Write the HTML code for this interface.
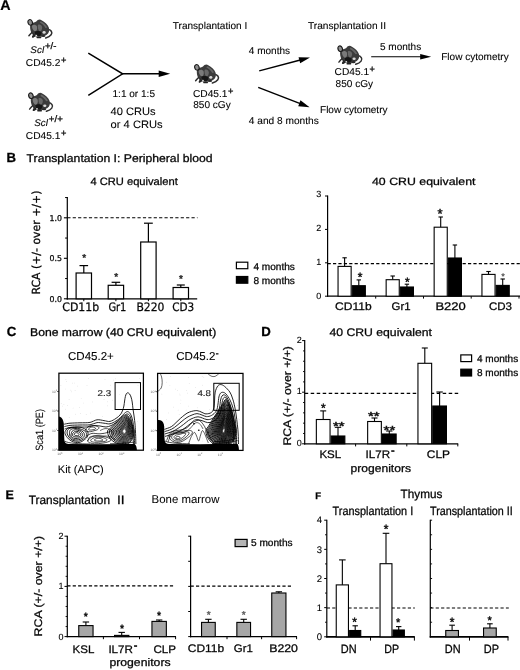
<!DOCTYPE html>
<html lang="en">
<head>
<meta charset="utf-8">
<title>Figure</title>
<style>
html,body{margin:0;padding:0;background:#fff;}
body{width:520px;height:670px;overflow:hidden;}
svg{display:block;font-family:"Liberation Sans",Arial,Helvetica,sans-serif;text-rendering:geometricPrecision;}
</style>
</head>
<body>
<svg width="520" height="670" viewBox="0 0 520 670">
<defs>
<filter id="soft" x="-10%" y="-10%" width="120%" height="120%"><feGaussianBlur stdDeviation="0.35"/></filter>
<filter id="soft2" x="-10%" y="-10%" width="120%" height="120%"><feGaussianBlur stdDeviation="0.25"/></filter>
<g id="mouse" filter="url(#soft)">
  <!-- tail -->
  <path d="M20.2,10.2 C23.8,10.6 25.6,13.4 23.8,15.8 C22.6,17.4 20.4,18.4 18.4,19" fill="none" stroke="#2e2e2e" stroke-width="1.5" stroke-linecap="round"/>
  <!-- body -->
  <path d="M3.0,5.8 C4.4,3.8 7.2,3.8 9.0,2.6 C10.4,0.4 12.6,0.0 14.2,1.2 C17.6,2.8 20.6,5.6 21.6,8.8 C22.4,11.6 21.6,14.4 19.4,15.8 C17.2,17.2 13.8,17.8 11,17.8 C8.2,17.8 5.8,16.4 4.4,14.2 C3.0,11.8 2.4,8.2 3.0,5.8 Z" fill="#3a3a3a"/>
  <!-- lighter patches -->
  <path d="M4.6,6.6 C6.2,5.2 8.6,5.4 9.6,7.2 C10.2,9.4 9.6,11.8 8.2,12.6 C6.2,12.4 4.6,9.6 4.6,6.6 Z" fill="#7a7a7a"/>
  <path d="M10.6,6 C12.4,5 14.4,6 14.8,8.2 C15,10.4 14,12.4 12.2,12.6 C10.8,11.2 10.2,8.2 10.6,6 Z" fill="#686868"/>
  <path d="M13.2,2.2 C15.8,3.2 18.8,5.8 20.0,8.4 L18.2,9.0 C17.0,6.6 14.8,4.6 12.4,3.6 Z" fill="#666"/>
  <!-- ear -->
  <ellipse cx="2.9" cy="3.4" rx="2.2" ry="2.9" fill="#8e8e8e" stroke="#1c1c1c" stroke-width="1.15" transform="rotate(-20 2.9 3.4)"/>
  <!-- dark belly -->
  <path d="M7.4,12.6 C9.4,11.6 12.4,11.8 14.0,13.0 C15.0,14.8 13.8,16.8 11.6,17.2 C9.2,17.2 7.4,15.4 7.4,12.6 Z" fill="#141414"/>
  <!-- feet -->
  <path d="M4.6,13.4 C3.4,14.6 2.4,15.8 1.6,16.8" fill="none" stroke="#2a2a2a" stroke-width="1.4" stroke-linecap="round"/>
  <path d="M6.4,15 C6,16.2 5.6,17.2 5.8,18" fill="none" stroke="#2a2a2a" stroke-width="1.4" stroke-linecap="round"/>
  <ellipse cx="16.8" cy="13.4" rx="1.6" ry="1.3" fill="#d8d8d8"/>
  <ellipse cx="6.6" cy="17.2" rx="2.2" ry="1.0" fill="#222" transform="rotate(-25 6.6 17.2)"/>
  <ellipse cx="11.6" cy="18.4" rx="2.6" ry="0.9" fill="#222"/>
  <ellipse cx="16.0" cy="17.0" rx="2.2" ry="1.0" fill="#2c2c2c"/>
  <ellipse cx="9.0" cy="16.4" rx="0.9" ry="0.7" fill="#ddd"/>
</g>
</defs>
<rect x="0" y="0" width="520" height="670" fill="#fff"/>

<g id="panelA">
<text x="0.20" y="10.20" font-size="14.3" font-weight="bold" fill="#000" stroke="#000" stroke-width="0.2">A</text>
<use href="#mouse" transform="translate(27.30,19.00) scale(1.0)"/>
<use href="#mouse" transform="translate(28.00,92.30) scale(1.0)"/>
<use href="#mouse" transform="translate(194.00,64.00) scale(1.0)"/>
<use href="#mouse" transform="translate(337.30,45.30) scale(1.0)"/>
<text x="30.30" y="52.60" font-size="9.6" font-style="italic" textLength="13.80" lengthAdjust="spacingAndGlyphs" stroke="#111" stroke-width="0.1">Scl</text>
<text x="45.00" y="49.40" font-size="9.6" textLength="11.40" lengthAdjust="spacingAndGlyphs" stroke="#111" stroke-width="0.3">+/-</text>
<text x="25.80" y="66.30" font-size="10" textLength="34.50" lengthAdjust="spacingAndGlyphs" stroke="#111" stroke-width="0.1">CD45.2</text>
<text x="61.00" y="63.40" font-size="9.2" stroke="#111" stroke-width="0.35">+</text>
<text x="34.20" y="125.80" font-size="9.6" font-style="italic" textLength="13.80" lengthAdjust="spacingAndGlyphs" stroke="#111" stroke-width="0.1">Scl</text>
<text x="48.80" y="122.40" font-size="9.6" textLength="14.00" lengthAdjust="spacingAndGlyphs" stroke="#111" stroke-width="0.3">+/+</text>
<text x="25.80" y="139.00" font-size="10" textLength="34.50" lengthAdjust="spacingAndGlyphs" stroke="#111" stroke-width="0.1">CD45.1</text>
<text x="61.00" y="136.00" font-size="9.2" stroke="#111" stroke-width="0.35">+</text>
<path d="M88.3,53.2 L122.6,73.8 L88.3,95.4" fill="none" stroke="#000" stroke-width="1.5" stroke-linejoin="miter"/>
<line x1="122.00" y1="73.80" x2="159.70" y2="73.80" stroke="#000" stroke-width="1.5" />
<polygon points="170.20,73.80 158.70,77.00 158.70,70.60" fill="#000"/>
<text x="112.50" y="97.40" font-size="10" textLength="42.50" lengthAdjust="spacingAndGlyphs" stroke="#111" stroke-width="0.1">1:1 or 1:5</text>
<text x="110.60" y="115.00" font-size="10.8" textLength="45.00" lengthAdjust="spacingAndGlyphs" stroke="#111" stroke-width="0.1">40 CRUs</text>
<text x="110.60" y="128.00" font-size="10.8" textLength="52.00" lengthAdjust="spacingAndGlyphs" stroke="#111" stroke-width="0.1">or 4 CRUs</text>
<text x="172.80" y="28.90" font-size="10" textLength="74.40" lengthAdjust="spacingAndGlyphs" stroke="#111" stroke-width="0.1">Transplantation I</text>
<text x="193.00" y="96.80" font-size="10" textLength="34.50" lengthAdjust="spacingAndGlyphs" stroke="#111" stroke-width="0.1">CD45.1</text>
<text x="228.00" y="93.80" font-size="9.2" stroke="#111" stroke-width="0.35">+</text>
<text x="193.20" y="108.20" font-size="10" textLength="37.50" lengthAdjust="spacingAndGlyphs" stroke="#111" stroke-width="0.1">850 cGy</text>
<text x="248.80" y="53.60" font-size="10" textLength="41.20" lengthAdjust="spacingAndGlyphs" stroke="#111" stroke-width="0.1">4 months</text>
<line x1="259.20" y1="70.90" x2="300.34" y2="59.97" stroke="#000" stroke-width="1.5" />
<polygon points="310.00,57.40 300.17,63.22 298.57,57.23" fill="#000"/>
<line x1="258.20" y1="87.40" x2="300.27" y2="103.61" stroke="#000" stroke-width="1.5" />
<polygon points="309.60,107.20 298.22,106.14 300.45,100.35" fill="#000"/>
<text x="248.80" y="123.60" font-size="10" textLength="70.00" lengthAdjust="spacingAndGlyphs" stroke="#111" stroke-width="0.1">4 and 8 months</text>
<text x="320.00" y="113.00" font-size="10" textLength="67.50" lengthAdjust="spacingAndGlyphs" stroke="#111" stroke-width="0.1">Flow cytometry</text>
<text x="308.00" y="28.90" font-size="10" textLength="78.00" lengthAdjust="spacingAndGlyphs" stroke="#111" stroke-width="0.1">Transplantation II</text>
<text x="334.60" y="75.40" font-size="10" textLength="34.50" lengthAdjust="spacingAndGlyphs" stroke="#111" stroke-width="0.1">CD45.1</text>
<text x="369.60" y="72.40" font-size="9.2" stroke="#111" stroke-width="0.35">+</text>
<text x="335.60" y="86.80" font-size="10" textLength="37.50" lengthAdjust="spacingAndGlyphs" stroke="#111" stroke-width="0.1">850 cGy</text>
<text x="380.00" y="49.80" font-size="10" textLength="41.20" lengthAdjust="spacingAndGlyphs" stroke="#111" stroke-width="0.1">5 months</text>
<line x1="371.20" y1="56.80" x2="421.20" y2="56.80" stroke="#000" stroke-width="1.1" />
<polygon points="431.20,56.80 420.20,59.60 420.20,54.00" fill="#000"/>
<text x="441.20" y="59.80" font-size="10" textLength="67.50" lengthAdjust="spacingAndGlyphs" stroke="#111" stroke-width="0.1">Flow cytometry</text>
</g>
<g id="panelB">
<text x="6.60" y="162.20" font-size="13.2" font-weight="bold" fill="#000" stroke="#000" stroke-width="0.28">B</text>
<text x="26.60" y="162.30" font-size="11.2" textLength="186.00" lengthAdjust="spacingAndGlyphs" stroke="#111" stroke-width="0.3">Transplantation I: Peripheral blood</text>
<text x="90.40" y="185.30" font-size="10.7" textLength="87.40" lengthAdjust="spacingAndGlyphs" stroke="#111" stroke-width="0.28">4 CRU equivalent</text>
<text x="372.00" y="185.30" font-size="10.5" textLength="103.50" lengthAdjust="spacingAndGlyphs" stroke="#111" stroke-width="0.28">40 CRU equivalent</text>
<line x1="67.30" y1="197.05" x2="67.30" y2="299.40" stroke="#000" stroke-width="1.2" />
<line x1="66.70" y1="298.80" x2="197.20" y2="298.80" stroke="#000" stroke-width="1.3" />
<line x1="63.90" y1="258.30" x2="67.30" y2="258.30" stroke="#000" stroke-width="1.1" />
<line x1="63.90" y1="217.80" x2="67.30" y2="217.80" stroke="#000" stroke-width="1.1" />
<line x1="63.90" y1="298.80" x2="67.30" y2="298.80" stroke="#000" stroke-width="1.1" />
<line x1="65.10" y1="278.55" x2="67.30" y2="278.55" stroke="#000" stroke-width="1.0" />
<line x1="65.10" y1="238.05" x2="67.30" y2="238.05" stroke="#000" stroke-width="1.0" />
<line x1="65.10" y1="197.55" x2="67.30" y2="197.55" stroke="#000" stroke-width="1.0" />
<text x="62.00" y="301.70" font-size="8" font-family='"DejaVu Sans", "Liberation Sans", sans-serif' text-anchor="end" textLength="12.40" lengthAdjust="spacingAndGlyphs" stroke="#111" stroke-width="0.28">0.0</text>
<text x="62.00" y="261.20" font-size="8" font-family='"DejaVu Sans", "Liberation Sans", sans-serif' text-anchor="end" textLength="12.40" lengthAdjust="spacingAndGlyphs" stroke="#111" stroke-width="0.28">0.5</text>
<text x="62.00" y="220.70" font-size="8" font-family='"DejaVu Sans", "Liberation Sans", sans-serif' text-anchor="end" textLength="12.40" lengthAdjust="spacingAndGlyphs" stroke="#111" stroke-width="0.28">1.0</text>
<text transform="translate(40.00,294.60) rotate(-90)" font-size="11.2" font-family='"DejaVu Sans", "Liberation Sans", sans-serif' textLength="104.00" lengthAdjust="spacingAndGlyphs" stroke="#111" stroke-width="0.28">RCA (+/- over +/+)</text>
<line x1="67.30" y1="217.80" x2="197.50" y2="217.80" stroke="#000" stroke-width="1.1" stroke-dasharray="3.2 2.2"/>
<line x1="83.80" y1="298.80" x2="83.80" y2="301.20" stroke="#000" stroke-width="1.0" />
<line x1="83.80" y1="265.60" x2="83.80" y2="273.00" stroke="#000" stroke-width="1.2" />
<line x1="79.50" y1="265.60" x2="88.10" y2="265.60" stroke="#000" stroke-width="1.2" />
<rect x="76.10" y="273.00" width="15.40" height="25.80" fill="#fff" stroke="#000" stroke-width="1.2"/>
<line x1="115.90" y1="298.80" x2="115.90" y2="301.20" stroke="#000" stroke-width="1.0" />
<line x1="115.90" y1="282.30" x2="115.90" y2="285.30" stroke="#000" stroke-width="1.2" />
<line x1="111.60" y1="282.30" x2="120.20" y2="282.30" stroke="#000" stroke-width="1.2" />
<rect x="108.20" y="285.30" width="15.40" height="13.50" fill="#fff" stroke="#000" stroke-width="1.2"/>
<line x1="148.40" y1="298.80" x2="148.40" y2="301.20" stroke="#000" stroke-width="1.0" />
<line x1="148.40" y1="223.20" x2="148.40" y2="242.00" stroke="#000" stroke-width="1.2" />
<line x1="144.00" y1="223.20" x2="152.80" y2="223.20" stroke="#000" stroke-width="1.2" />
<rect x="140.70" y="242.00" width="15.40" height="56.80" fill="#fff" stroke="#000" stroke-width="1.2"/>
<line x1="180.80" y1="298.80" x2="180.80" y2="301.20" stroke="#000" stroke-width="1.0" />
<line x1="180.80" y1="285.00" x2="180.80" y2="287.50" stroke="#000" stroke-width="1.2" />
<line x1="176.80" y1="285.00" x2="184.80" y2="285.00" stroke="#000" stroke-width="1.2" />
<rect x="173.10" y="287.50" width="15.40" height="11.30" fill="#fff" stroke="#000" stroke-width="1.2"/>
<text x="84.30" y="261.45" font-size="10" text-anchor="middle" fill="#333" stroke="#333" stroke-width="0.5">*</text>
<text x="116.20" y="279.85" font-size="10" text-anchor="middle" fill="#333" stroke="#333" stroke-width="0.5">*</text>
<text x="181.00" y="282.45" font-size="10" text-anchor="middle" fill="#333" stroke="#333" stroke-width="0.5">*</text>
<text x="62.30" y="311.40" font-size="11.6" font-family='"DejaVu Sans", "Liberation Sans", sans-serif' textLength="36.90" lengthAdjust="spacingAndGlyphs" stroke="#111" stroke-width="0.28">CD11b</text>
<text x="108.40" y="311.40" font-size="11.6" font-family='"DejaVu Sans", "Liberation Sans", sans-serif' textLength="18.00" lengthAdjust="spacingAndGlyphs" stroke="#111" stroke-width="0.28">Gr1</text>
<text x="136.40" y="311.40" font-size="11.6" font-family='"DejaVu Sans", "Liberation Sans", sans-serif' textLength="28.00" lengthAdjust="spacingAndGlyphs" stroke="#111" stroke-width="0.28">B220</text>
<text x="172.20" y="311.40" font-size="11.6" font-family='"DejaVu Sans", "Liberation Sans", sans-serif' textLength="22.00" lengthAdjust="spacingAndGlyphs" stroke="#111" stroke-width="0.28">CD3</text>
<rect x="236.40" y="262.20" width="11.40" height="6.50" fill="#fff" stroke="#000" stroke-width="1.2"/>
<rect x="236.40" y="276.50" width="11.40" height="6.70" fill="#000" stroke="#000" stroke-width="1.2"/>
<text x="253.40" y="270.00" font-size="10" textLength="41.50" lengthAdjust="spacingAndGlyphs" stroke="#111" stroke-width="0.28">4 months</text>
<text x="253.40" y="283.50" font-size="10" textLength="41.50" lengthAdjust="spacingAndGlyphs" stroke="#111" stroke-width="0.28">8 months</text>
<line x1="327.60" y1="195.50" x2="327.60" y2="296.80" stroke="#000" stroke-width="1.2" />
<line x1="327.00" y1="296.20" x2="520.00" y2="296.20" stroke="#000" stroke-width="1.3" />
<line x1="325.00" y1="296.20" x2="327.60" y2="296.20" stroke="#000" stroke-width="1.0" />
<text x="321.20" y="299.20" font-size="9" text-anchor="end" stroke="#111" stroke-width="0.1">0</text>
<line x1="325.00" y1="262.80" x2="327.60" y2="262.80" stroke="#000" stroke-width="1.0" />
<text x="321.20" y="265.00" font-size="9" text-anchor="end" stroke="#111" stroke-width="0.1">1</text>
<line x1="325.00" y1="229.40" x2="327.60" y2="229.40" stroke="#000" stroke-width="1.0" />
<text x="321.20" y="230.80" font-size="9" text-anchor="end" stroke="#111" stroke-width="0.1">2</text>
<line x1="325.00" y1="196.00" x2="327.60" y2="196.00" stroke="#000" stroke-width="1.0" />
<text x="321.20" y="196.60" font-size="9" text-anchor="end" stroke="#111" stroke-width="0.1">3</text>
<line x1="375.70" y1="296.20" x2="375.70" y2="298.60" stroke="#000" stroke-width="1.0" />
<line x1="423.50" y1="296.20" x2="423.50" y2="298.60" stroke="#000" stroke-width="1.0" />
<line x1="471.20" y1="296.20" x2="471.20" y2="298.60" stroke="#000" stroke-width="1.0" />
<line x1="519.00" y1="296.20" x2="519.00" y2="298.60" stroke="#000" stroke-width="1.0" />
<line x1="327.60" y1="263.60" x2="520.00" y2="263.60" stroke="#000" stroke-width="1.1" stroke-dasharray="3.2 2.2"/>
<line x1="344.60" y1="257.80" x2="344.60" y2="266.40" stroke="#000" stroke-width="1.1" />
<line x1="342.40" y1="257.80" x2="346.80" y2="257.80" stroke="#000" stroke-width="1.1" />
<rect x="338.05" y="266.40" width="13.10" height="29.80" fill="#fff" stroke="#000" stroke-width="1.1"/>
<line x1="358.80" y1="279.90" x2="358.80" y2="285.70" stroke="#000" stroke-width="1.1" />
<line x1="356.60" y1="279.90" x2="361.00" y2="279.90" stroke="#000" stroke-width="1.1" />
<rect x="352.25" y="285.70" width="13.10" height="10.50" fill="#000" stroke="#000" stroke-width="1.1"/>
<line x1="392.70" y1="276.00" x2="392.70" y2="279.70" stroke="#000" stroke-width="1.1" />
<line x1="390.50" y1="276.00" x2="394.90" y2="276.00" stroke="#000" stroke-width="1.1" />
<rect x="386.15" y="279.70" width="13.10" height="16.50" fill="#fff" stroke="#000" stroke-width="1.1"/>
<line x1="406.90" y1="284.20" x2="406.90" y2="287.00" stroke="#000" stroke-width="1.1" />
<line x1="404.70" y1="284.20" x2="409.10" y2="284.20" stroke="#000" stroke-width="1.1" />
<rect x="400.35" y="287.00" width="13.10" height="9.20" fill="#000" stroke="#000" stroke-width="1.1"/>
<line x1="440.70" y1="217.00" x2="440.70" y2="227.20" stroke="#000" stroke-width="1.1" />
<line x1="438.50" y1="217.00" x2="442.90" y2="217.00" stroke="#000" stroke-width="1.1" />
<rect x="434.15" y="227.20" width="13.10" height="69.00" fill="#fff" stroke="#000" stroke-width="1.1"/>
<line x1="454.90" y1="245.00" x2="454.90" y2="258.00" stroke="#000" stroke-width="1.1" />
<line x1="452.70" y1="245.00" x2="457.10" y2="245.00" stroke="#000" stroke-width="1.1" />
<rect x="448.35" y="258.00" width="13.10" height="38.20" fill="#000" stroke="#000" stroke-width="1.1"/>
<line x1="488.50" y1="271.50" x2="488.50" y2="274.40" stroke="#000" stroke-width="1.1" />
<line x1="486.30" y1="271.50" x2="490.70" y2="271.50" stroke="#000" stroke-width="1.1" />
<rect x="481.95" y="274.40" width="13.10" height="21.80" fill="#fff" stroke="#000" stroke-width="1.1"/>
<line x1="502.70" y1="279.00" x2="502.70" y2="285.40" stroke="#000" stroke-width="1.1" />
<line x1="500.50" y1="279.00" x2="504.90" y2="279.00" stroke="#000" stroke-width="1.1" />
<rect x="496.15" y="285.40" width="13.10" height="10.80" fill="#000" stroke="#000" stroke-width="1.1"/>
<text x="360.20" y="281.22" font-size="12" text-anchor="middle" stroke="#111" stroke-width="0.45">*</text>
<text x="407.40" y="286.42" font-size="12" text-anchor="middle" stroke="#111" stroke-width="0.45">*</text>
<text x="440.00" y="218.40" font-size="13" text-anchor="middle" stroke="#111" stroke-width="0.45">*</text>
<text x="503.00" y="278.88" font-size="8" text-anchor="middle" fill="#666" stroke="#666" stroke-width="0.45">*</text>
<text x="335.00" y="309.80" font-size="11" textLength="36.60" lengthAdjust="spacingAndGlyphs" stroke="#111" stroke-width="0.28">CD11b</text>
<text x="391.60" y="309.80" font-size="11" textLength="19.00" lengthAdjust="spacingAndGlyphs" stroke="#111" stroke-width="0.28">Gr1</text>
<text x="435.40" y="309.80" font-size="11" textLength="30.40" lengthAdjust="spacingAndGlyphs" stroke="#111" stroke-width="0.28">B220</text>
<text x="489.00" y="309.80" font-size="11" textLength="23.00" lengthAdjust="spacingAndGlyphs" stroke="#111" stroke-width="0.28">CD3</text>
</g>
<g id="panelC">
<text x="6.80" y="335.60" font-size="13.2" font-weight="bold" fill="#000" stroke="#000" stroke-width="0.28">C</text>
<text x="30.00" y="335.70" font-size="11.2" textLength="186.20" lengthAdjust="spacingAndGlyphs" stroke="#111" stroke-width="0.3">Bone marrow (40 CRU equivalent)</text>
<text x="68.00" y="359.70" font-size="11.5" textLength="45.80" lengthAdjust="spacingAndGlyphs" stroke="#111" stroke-width="0.08">CD45.2+</text>
<text x="176.20" y="360.00" font-size="11.5" textLength="39.20" lengthAdjust="spacingAndGlyphs" stroke="#111" stroke-width="0.08">CD45.2</text>
<text x="215.80" y="355.60" font-size="8.5" font-weight="bold" stroke="#111" stroke-width="0.28">-</text>
<text transform="translate(43.20,450.80) rotate(-90)" font-size="10.6" textLength="41.80" lengthAdjust="spacingAndGlyphs" stroke="#111" stroke-width="0.08">Sca1 (PE)</text>
<text x="57.80" y="472.60" font-size="11" textLength="46.00" lengthAdjust="spacingAndGlyphs" stroke="#111" stroke-width="0.08">Kit (APC)</text>
</g>
<g id="panelD">
<text x="261.20" y="336.00" font-size="13.2" font-weight="bold" fill="#000" stroke="#000" stroke-width="0.28">D</text>
<text x="329.40" y="336.40" font-size="11" textLength="102.60" lengthAdjust="spacingAndGlyphs" stroke="#111" stroke-width="0.28">40 CRU equivalent</text>
<line x1="304.70" y1="340.10" x2="304.70" y2="444.40" stroke="#000" stroke-width="1.2" />
<line x1="304.10" y1="443.80" x2="458.20" y2="443.80" stroke="#000" stroke-width="1.3" />
<line x1="302.10" y1="443.80" x2="304.70" y2="443.80" stroke="#000" stroke-width="1.0" />
<text x="301.80" y="445.80" font-size="9" text-anchor="end" stroke="#111" stroke-width="0.1">0</text>
<line x1="302.10" y1="392.20" x2="304.70" y2="392.20" stroke="#000" stroke-width="1.0" />
<text x="301.80" y="394.20" font-size="9" text-anchor="end" stroke="#111" stroke-width="0.1">1</text>
<line x1="302.10" y1="340.60" x2="304.70" y2="340.60" stroke="#000" stroke-width="1.0" />
<text x="301.80" y="342.60" font-size="9" text-anchor="end" stroke="#111" stroke-width="0.1">2</text>
<line x1="303.00" y1="433.48" x2="304.70" y2="433.48" stroke="#000" stroke-width="0.9" />
<line x1="303.00" y1="423.16" x2="304.70" y2="423.16" stroke="#000" stroke-width="0.9" />
<line x1="303.00" y1="412.84" x2="304.70" y2="412.84" stroke="#000" stroke-width="0.9" />
<line x1="303.00" y1="402.52" x2="304.70" y2="402.52" stroke="#000" stroke-width="0.9" />
<line x1="303.00" y1="381.88" x2="304.70" y2="381.88" stroke="#000" stroke-width="0.9" />
<line x1="303.00" y1="371.56" x2="304.70" y2="371.56" stroke="#000" stroke-width="0.9" />
<line x1="303.00" y1="361.24" x2="304.70" y2="361.24" stroke="#000" stroke-width="0.9" />
<line x1="303.00" y1="350.92" x2="304.70" y2="350.92" stroke="#000" stroke-width="0.9" />
<line x1="355.60" y1="443.80" x2="355.60" y2="446.40" stroke="#000" stroke-width="1.0" />
<line x1="406.80" y1="443.80" x2="406.80" y2="446.40" stroke="#000" stroke-width="1.0" />
<line x1="457.80" y1="443.80" x2="457.80" y2="446.40" stroke="#000" stroke-width="1.0" />
<line x1="304.70" y1="393.40" x2="458.20" y2="393.40" stroke="#000" stroke-width="1.1" stroke-dasharray="3.5 2.5"/>
<text transform="translate(290.60,445.60) rotate(-90)" font-size="11" textLength="99.50" lengthAdjust="spacingAndGlyphs" stroke="#111" stroke-width="0.28">RCA (+/- over +/+)</text>
<line x1="323.20" y1="410.90" x2="323.20" y2="419.50" stroke="#000" stroke-width="1.1" />
<line x1="320.20" y1="410.90" x2="326.20" y2="410.90" stroke="#000" stroke-width="1.1" />
<rect x="316.35" y="419.50" width="13.70" height="24.30" fill="#fff" stroke="#000" stroke-width="1.1"/>
<line x1="338.00" y1="427.30" x2="338.00" y2="436.00" stroke="#000" stroke-width="1.1" />
<line x1="334.80" y1="427.30" x2="341.20" y2="427.30" stroke="#000" stroke-width="1.1" />
<rect x="331.15" y="436.00" width="13.70" height="7.80" fill="#000" stroke="#000" stroke-width="1.1"/>
<line x1="374.50" y1="418.00" x2="374.50" y2="421.50" stroke="#000" stroke-width="1.1" />
<line x1="371.50" y1="418.00" x2="377.50" y2="418.00" stroke="#000" stroke-width="1.1" />
<rect x="367.65" y="421.50" width="13.70" height="22.30" fill="#fff" stroke="#000" stroke-width="1.1"/>
<line x1="389.30" y1="431.00" x2="389.30" y2="434.00" stroke="#000" stroke-width="1.1" />
<line x1="386.10" y1="431.00" x2="392.50" y2="431.00" stroke="#000" stroke-width="1.1" />
<rect x="382.45" y="434.00" width="13.70" height="9.80" fill="#000" stroke="#000" stroke-width="1.1"/>
<line x1="424.80" y1="348.00" x2="424.80" y2="363.30" stroke="#000" stroke-width="1.1" />
<line x1="421.80" y1="348.00" x2="427.80" y2="348.00" stroke="#000" stroke-width="1.1" />
<rect x="417.95" y="363.30" width="13.70" height="80.50" fill="#fff" stroke="#000" stroke-width="1.1"/>
<line x1="439.60" y1="392.00" x2="439.60" y2="406.00" stroke="#000" stroke-width="1.1" />
<line x1="436.40" y1="392.00" x2="442.80" y2="392.00" stroke="#000" stroke-width="1.1" />
<rect x="432.75" y="406.00" width="13.70" height="37.80" fill="#000" stroke="#000" stroke-width="1.1"/>
<text x="323.40" y="412.42" font-size="12" text-anchor="middle" stroke="#111" stroke-width="0.45">*</text>
<text x="332.90" y="430.00" font-size="11.5" textLength="11.60" lengthAdjust="spacingAndGlyphs" stroke="#111" stroke-width="0.45">**</text>
<text x="368.00" y="420.00" font-size="11.5" textLength="11.60" lengthAdjust="spacingAndGlyphs" stroke="#111" stroke-width="0.45">**</text>
<text x="383.60" y="434.40" font-size="11.5" textLength="11.60" lengthAdjust="spacingAndGlyphs" stroke="#111" stroke-width="0.45">**</text>
<text x="319.40" y="458.10" font-size="11" textLength="21.80" lengthAdjust="spacingAndGlyphs" stroke="#111" stroke-width="0.28">KSL</text>
<text x="365.60" y="458.10" font-size="11" textLength="24.60" lengthAdjust="spacingAndGlyphs" stroke="#111" stroke-width="0.28">IL7R</text>
<text x="391.00" y="454.40" font-size="11" font-weight="bold" stroke="#111" stroke-width="0.28">-</text>
<text x="426.80" y="458.10" font-size="11" textLength="23.20" lengthAdjust="spacingAndGlyphs" stroke="#111" stroke-width="0.28">CLP</text>
<text x="350.60" y="472.20" font-size="11" textLength="60.40" lengthAdjust="spacingAndGlyphs" stroke="#111" stroke-width="0.28">progenitors</text>
<rect x="460.80" y="354.90" width="10.80" height="6.70" fill="#fff" stroke="#000" stroke-width="1.2"/>
<rect x="460.80" y="369.20" width="10.80" height="6.80" fill="#000" stroke="#000" stroke-width="1.2"/>
<text x="477.00" y="362.40" font-size="10" textLength="41.20" lengthAdjust="spacingAndGlyphs" stroke="#111" stroke-width="0.28">4 months</text>
<text x="477.00" y="376.00" font-size="10" textLength="41.20" lengthAdjust="spacingAndGlyphs" stroke="#111" stroke-width="0.28">8 months</text>
</g>
<g id="panelE">
<text x="5.40" y="498.80" font-size="12.5" font-weight="bold" fill="#000" stroke="#000" stroke-width="0.28">E</text>
<text x="28.80" y="503.80" font-size="12" textLength="81.20" lengthAdjust="spacingAndGlyphs" stroke="#111" stroke-width="0.28">Transplantation</text>
<text x="117.00" y="503.80" font-size="12" textLength="7.60" lengthAdjust="spacingAndGlyphs" stroke="#111" stroke-width="0.28">II</text>
<text x="151.60" y="503.00" font-size="11.4" textLength="67.80" lengthAdjust="spacingAndGlyphs" stroke="#111" stroke-width="0.05">Bone marrow</text>
<line x1="67.30" y1="535.70" x2="67.30" y2="637.20" stroke="#000" stroke-width="1.2" />
<line x1="66.70" y1="636.60" x2="176.00" y2="636.60" stroke="#000" stroke-width="1.4" />
<line x1="64.50" y1="636.60" x2="67.30" y2="636.60" stroke="#000" stroke-width="1.0" />
<text x="63.60" y="639.60" font-size="9" text-anchor="end" stroke="#111" stroke-width="0.1">0</text>
<line x1="64.50" y1="586.40" x2="67.30" y2="586.40" stroke="#000" stroke-width="1.0" />
<text x="63.60" y="589.40" font-size="9" text-anchor="end" stroke="#111" stroke-width="0.1">1</text>
<line x1="64.50" y1="536.20" x2="67.30" y2="536.20" stroke="#000" stroke-width="1.0" />
<text x="63.60" y="539.20" font-size="9" text-anchor="end" stroke="#111" stroke-width="0.1">2</text>
<line x1="65.60" y1="626.56" x2="67.30" y2="626.56" stroke="#000" stroke-width="0.9" />
<line x1="65.60" y1="616.52" x2="67.30" y2="616.52" stroke="#000" stroke-width="0.9" />
<line x1="65.60" y1="606.48" x2="67.30" y2="606.48" stroke="#000" stroke-width="0.9" />
<line x1="65.60" y1="596.44" x2="67.30" y2="596.44" stroke="#000" stroke-width="0.9" />
<line x1="65.60" y1="576.36" x2="67.30" y2="576.36" stroke="#000" stroke-width="0.9" />
<line x1="65.60" y1="566.32" x2="67.30" y2="566.32" stroke="#000" stroke-width="0.9" />
<line x1="65.60" y1="556.28" x2="67.30" y2="556.28" stroke="#000" stroke-width="0.9" />
<line x1="65.60" y1="546.24" x2="67.30" y2="546.24" stroke="#000" stroke-width="0.9" />
<line x1="103.40" y1="636.60" x2="103.40" y2="639.20" stroke="#000" stroke-width="1.0" />
<line x1="139.50" y1="636.60" x2="139.50" y2="639.20" stroke="#000" stroke-width="1.0" />
<line x1="175.60" y1="636.60" x2="175.60" y2="639.20" stroke="#000" stroke-width="1.0" />
<line x1="67.30" y1="585.90" x2="174.40" y2="585.90" stroke="#000" stroke-width="1.2" stroke-dasharray="3.2 2.2"/>
<text transform="translate(42.00,636.40) rotate(-90)" font-size="11" textLength="100.50" lengthAdjust="spacingAndGlyphs" stroke="#111" stroke-width="0.28">RCA (+/- over +/+)</text>
<line x1="85.90" y1="622.00" x2="85.90" y2="625.60" stroke="#000" stroke-width="1.1" />
<line x1="82.70" y1="622.00" x2="89.10" y2="622.00" stroke="#000" stroke-width="1.1" />
<rect x="78.75" y="625.60" width="14.30" height="11.00" fill="#a6a6a6" stroke="#000" stroke-width="1.1"/>
<line x1="121.70" y1="632.40" x2="121.70" y2="635.40" stroke="#000" stroke-width="1.1" />
<line x1="118.50" y1="632.40" x2="124.90" y2="632.40" stroke="#000" stroke-width="1.1" />
<rect x="114.55" y="635.40" width="14.30" height="1.20" fill="#a6a6a6" stroke="#000" stroke-width="1.1"/>
<line x1="159.15" y1="620.00" x2="159.15" y2="621.40" stroke="#000" stroke-width="1.1" />
<line x1="155.95" y1="620.00" x2="162.35" y2="620.00" stroke="#000" stroke-width="1.1" />
<rect x="151.95" y="621.40" width="14.40" height="15.20" fill="#a6a6a6" stroke="#000" stroke-width="1.1"/>
<text x="85.90" y="619.74" font-size="10.5" text-anchor="middle" stroke="#111" stroke-width="0.45">*</text>
<text x="122.00" y="632.04" font-size="10.5" text-anchor="middle" stroke="#111" stroke-width="0.45">*</text>
<text x="159.10" y="618.54" font-size="10.5" text-anchor="middle" stroke="#111" stroke-width="0.45">*</text>
<text x="72.60" y="652.60" font-size="11" textLength="21.80" lengthAdjust="spacingAndGlyphs" stroke="#111" stroke-width="0.28">KSL</text>
<text x="108.40" y="652.60" font-size="11" textLength="24.60" lengthAdjust="spacingAndGlyphs" stroke="#111" stroke-width="0.28">IL7R</text>
<text x="133.80" y="648.60" font-size="11" font-weight="bold" stroke="#111" stroke-width="0.28">-</text>
<text x="153.40" y="652.60" font-size="11" textLength="22.60" lengthAdjust="spacingAndGlyphs" stroke="#111" stroke-width="0.28">CLP</text>
<text x="109.40" y="665.60" font-size="11" textLength="61.20" lengthAdjust="spacingAndGlyphs" stroke="#111" stroke-width="0.28">progenitors</text>
<line x1="190.60" y1="535.70" x2="190.60" y2="637.20" stroke="#000" stroke-width="1.2" />
<line x1="190.00" y1="636.60" x2="297.00" y2="636.60" stroke="#000" stroke-width="1.4" />
<line x1="188.20" y1="636.60" x2="190.60" y2="636.60" stroke="#000" stroke-width="1.0" />
<line x1="188.20" y1="611.50" x2="190.60" y2="611.50" stroke="#000" stroke-width="1.0" />
<line x1="188.20" y1="586.40" x2="190.60" y2="586.40" stroke="#000" stroke-width="1.0" />
<line x1="188.20" y1="561.30" x2="190.60" y2="561.30" stroke="#000" stroke-width="1.0" />
<line x1="188.20" y1="536.20" x2="190.60" y2="536.20" stroke="#000" stroke-width="1.0" />
<line x1="227.00" y1="636.60" x2="227.00" y2="639.20" stroke="#000" stroke-width="1.0" />
<line x1="261.60" y1="636.60" x2="261.60" y2="639.20" stroke="#000" stroke-width="1.0" />
<line x1="296.60" y1="636.60" x2="296.60" y2="639.20" stroke="#000" stroke-width="1.0" />
<line x1="190.60" y1="586.20" x2="291.40" y2="586.20" stroke="#000" stroke-width="1.2" stroke-dasharray="3.2 2.2"/>
<line x1="208.40" y1="619.30" x2="208.40" y2="622.40" stroke="#000" stroke-width="1.1" />
<line x1="205.20" y1="619.30" x2="211.60" y2="619.30" stroke="#000" stroke-width="1.1" />
<rect x="201.55" y="622.40" width="13.70" height="14.20" fill="#a6a6a6" stroke="#000" stroke-width="1.1"/>
<line x1="243.70" y1="619.30" x2="243.70" y2="622.40" stroke="#000" stroke-width="1.1" />
<line x1="240.50" y1="619.30" x2="246.90" y2="619.30" stroke="#000" stroke-width="1.1" />
<rect x="236.85" y="622.40" width="13.70" height="14.20" fill="#a6a6a6" stroke="#000" stroke-width="1.1"/>
<line x1="278.85" y1="591.80" x2="278.85" y2="593.00" stroke="#000" stroke-width="1.1" />
<line x1="275.65" y1="591.80" x2="282.05" y2="591.80" stroke="#000" stroke-width="1.1" />
<rect x="271.75" y="593.00" width="14.20" height="43.60" fill="#a6a6a6" stroke="#000" stroke-width="1.1"/>
<text x="208.60" y="617.65" font-size="10" text-anchor="middle" fill="#666" stroke="#666" stroke-width="0.45">*</text>
<text x="243.60" y="617.65" font-size="10" text-anchor="middle" fill="#666" stroke="#666" stroke-width="0.45">*</text>
<rect x="235.10" y="539.40" width="12.00" height="7.20" fill="#b4b4b4" stroke="#000" stroke-width="1.2"/>
<text x="251.00" y="546.20" font-size="10" textLength="41.60" lengthAdjust="spacingAndGlyphs" stroke="#111" stroke-width="0.28">5 months</text>
<text x="187.80" y="651.80" font-size="11" textLength="36.40" lengthAdjust="spacingAndGlyphs" stroke="#111" stroke-width="0.28">CD11b</text>
<text x="233.80" y="651.80" font-size="11" textLength="19.00" lengthAdjust="spacingAndGlyphs" stroke="#111" stroke-width="0.28">Gr1</text>
<text x="269.20" y="651.80" font-size="11" textLength="28.80" lengthAdjust="spacingAndGlyphs" stroke="#111" stroke-width="0.28">B220</text>
</g>
<g id="panelF">
<text x="315.20" y="498.80" font-size="9.5" font-weight="bold" fill="#000" stroke="#000" stroke-width="0.28">F</text>
<text x="400.60" y="498.20" font-size="12" textLength="41.80" lengthAdjust="spacingAndGlyphs" stroke="#111" stroke-width="0.28">Thymus</text>
<text x="332.60" y="515.40" font-size="12" textLength="80.60" lengthAdjust="spacingAndGlyphs" stroke="#111" stroke-width="0.28">Transplantation I</text>
<text x="430.00" y="515.40" font-size="12" textLength="82.80" lengthAdjust="spacingAndGlyphs" stroke="#111" stroke-width="0.28">Transplantation II</text>
<line x1="326.80" y1="519.70" x2="326.80" y2="637.60" stroke="#000" stroke-width="1.2" />
<line x1="326.20" y1="636.80" x2="414.80" y2="636.80" stroke="#000" stroke-width="1.8" />
<line x1="324.20" y1="636.80" x2="326.80" y2="636.80" stroke="#000" stroke-width="1.0" />
<text x="322.00" y="640.00" font-size="9.5" text-anchor="end" stroke="#111" stroke-width="0.1">0</text>
<line x1="324.20" y1="607.65" x2="326.80" y2="607.65" stroke="#000" stroke-width="1.0" />
<text x="322.00" y="610.85" font-size="9.5" text-anchor="end" stroke="#111" stroke-width="0.1">1</text>
<line x1="324.20" y1="578.50" x2="326.80" y2="578.50" stroke="#000" stroke-width="1.0" />
<text x="322.00" y="581.70" font-size="9.5" text-anchor="end" stroke="#111" stroke-width="0.1">2</text>
<line x1="324.20" y1="549.35" x2="326.80" y2="549.35" stroke="#000" stroke-width="1.0" />
<text x="322.00" y="552.55" font-size="9.5" text-anchor="end" stroke="#111" stroke-width="0.1">3</text>
<line x1="324.20" y1="520.20" x2="326.80" y2="520.20" stroke="#000" stroke-width="1.0" />
<text x="322.00" y="523.40" font-size="9.5" text-anchor="end" stroke="#111" stroke-width="0.1">4</text>
<line x1="325.00" y1="622.22" x2="326.80" y2="622.22" stroke="#000" stroke-width="0.9" />
<line x1="325.00" y1="593.07" x2="326.80" y2="593.07" stroke="#000" stroke-width="0.9" />
<line x1="325.00" y1="563.92" x2="326.80" y2="563.92" stroke="#000" stroke-width="0.9" />
<line x1="325.00" y1="534.77" x2="326.80" y2="534.77" stroke="#000" stroke-width="0.9" />
<line x1="370.50" y1="636.80" x2="370.50" y2="640.60" stroke="#000" stroke-width="1.0" />
<line x1="414.40" y1="636.80" x2="414.40" y2="640.60" stroke="#000" stroke-width="1.0" />
<line x1="326.80" y1="608.00" x2="414.80" y2="608.00" stroke="#000" stroke-width="1.1" stroke-dasharray="3.2 2.2"/>
<line x1="342.35" y1="559.90" x2="342.35" y2="584.90" stroke="#000" stroke-width="1.1" />
<line x1="339.05" y1="559.90" x2="345.65" y2="559.90" stroke="#000" stroke-width="1.1" />
<rect x="336.25" y="584.90" width="12.20" height="51.90" fill="#fff" stroke="#000" stroke-width="1.1"/>
<line x1="355.20" y1="625.80" x2="355.20" y2="630.50" stroke="#000" stroke-width="1.1" />
<line x1="352.50" y1="625.80" x2="357.90" y2="625.80" stroke="#000" stroke-width="1.1" />
<rect x="349.65" y="630.50" width="11.10" height="6.30" fill="#000" stroke="#000" stroke-width="1.1"/>
<line x1="386.00" y1="533.30" x2="386.00" y2="563.70" stroke="#000" stroke-width="1.1" />
<line x1="382.70" y1="533.30" x2="389.30" y2="533.30" stroke="#000" stroke-width="1.1" />
<rect x="380.05" y="563.70" width="11.90" height="73.10" fill="#fff" stroke="#000" stroke-width="1.1"/>
<line x1="398.70" y1="626.60" x2="398.70" y2="630.00" stroke="#000" stroke-width="1.1" />
<line x1="396.00" y1="626.60" x2="401.40" y2="626.60" stroke="#000" stroke-width="1.1" />
<rect x="393.05" y="630.00" width="11.30" height="6.80" fill="#000" stroke="#000" stroke-width="1.1"/>
<text x="354.60" y="625.52" font-size="12" text-anchor="middle" stroke="#111" stroke-width="0.45">*</text>
<text x="386.10" y="533.02" font-size="12" text-anchor="middle" stroke="#111" stroke-width="0.45">*</text>
<text x="398.20" y="626.24" font-size="11" text-anchor="middle" stroke="#111" stroke-width="0.45">*</text>
<text x="340.80" y="653.40" font-size="12" textLength="15.80" lengthAdjust="spacingAndGlyphs" stroke="#111" stroke-width="0.28">DN</text>
<text x="384.20" y="653.40" font-size="12" textLength="14.80" lengthAdjust="spacingAndGlyphs" stroke="#111" stroke-width="0.28">DP</text>
<line x1="430.30" y1="519.70" x2="430.30" y2="637.60" stroke="#000" stroke-width="1.2" />
<line x1="429.70" y1="636.80" x2="508.40" y2="636.80" stroke="#000" stroke-width="1.8" />
<line x1="430.30" y1="622.22" x2="432.10" y2="622.22" stroke="#000" stroke-width="0.9" />
<line x1="430.30" y1="607.65" x2="432.10" y2="607.65" stroke="#000" stroke-width="0.9" />
<line x1="430.30" y1="593.07" x2="432.10" y2="593.07" stroke="#000" stroke-width="0.9" />
<line x1="430.30" y1="578.50" x2="432.10" y2="578.50" stroke="#000" stroke-width="0.9" />
<line x1="430.30" y1="563.92" x2="432.10" y2="563.92" stroke="#000" stroke-width="0.9" />
<line x1="430.30" y1="549.35" x2="432.10" y2="549.35" stroke="#000" stroke-width="0.9" />
<line x1="430.30" y1="534.77" x2="432.10" y2="534.77" stroke="#000" stroke-width="0.9" />
<line x1="430.30" y1="520.20" x2="432.10" y2="520.20" stroke="#000" stroke-width="0.9" />
<line x1="469.50" y1="636.80" x2="469.50" y2="640.60" stroke="#000" stroke-width="1.0" />
<line x1="508.00" y1="636.80" x2="508.00" y2="640.60" stroke="#000" stroke-width="1.0" />
<line x1="430.30" y1="608.00" x2="508.80" y2="608.00" stroke="#000" stroke-width="1.1" stroke-dasharray="3.2 2.2"/>
<line x1="452.10" y1="625.20" x2="452.10" y2="630.50" stroke="#000" stroke-width="1.1" />
<line x1="449.30" y1="625.20" x2="454.90" y2="625.20" stroke="#000" stroke-width="1.1" />
<rect x="445.75" y="630.50" width="12.70" height="6.30" fill="#a6a6a6" stroke="#000" stroke-width="1.1"/>
<line x1="489.90" y1="623.80" x2="489.90" y2="628.00" stroke="#000" stroke-width="1.1" />
<line x1="487.10" y1="623.80" x2="492.70" y2="623.80" stroke="#000" stroke-width="1.1" />
<rect x="483.55" y="628.00" width="12.70" height="8.80" fill="#a6a6a6" stroke="#000" stroke-width="1.1"/>
<text x="452.20" y="626.02" font-size="12" text-anchor="middle" stroke="#111" stroke-width="0.45">*</text>
<text x="489.60" y="624.33" font-size="11" text-anchor="middle" stroke="#111" stroke-width="0.45">*</text>
<text x="444.80" y="653.40" font-size="12" textLength="15.80" lengthAdjust="spacingAndGlyphs" stroke="#111" stroke-width="0.28">DN</text>
<text x="483.80" y="653.40" font-size="12" textLength="15.20" lengthAdjust="spacingAndGlyphs" stroke="#111" stroke-width="0.28">DP</text>
</g>
<g id="panelC-plots" filter="url(#soft2)">
<clipPath id="cp1"><rect x="58.9" y="373.2" width="84.5" height="77.0"/></clipPath>
<text x="51.9" y="451.2" font-size="3.4" fill="#666">10<tspan dy="-1.3" font-size="2.4">0</tspan></text>
<line x1="57.1" y1="450.0" x2="58.9" y2="450.0" stroke="#333" stroke-width="0.8"/>
<text x="51.9" y="431.7" font-size="3.4" fill="#666">10<tspan dy="-1.3" font-size="2.4">1</tspan></text>
<line x1="57.1" y1="430.5" x2="58.9" y2="430.5" stroke="#333" stroke-width="0.8"/>
<text x="51.9" y="412.2" font-size="3.4" fill="#666">10<tspan dy="-1.3" font-size="2.4">2</tspan></text>
<line x1="57.1" y1="411.0" x2="58.9" y2="411.0" stroke="#333" stroke-width="0.8"/>
<text x="51.9" y="392.7" font-size="3.4" fill="#666">10<tspan dy="-1.3" font-size="2.4">3</tspan></text>
<line x1="57.1" y1="391.5" x2="58.9" y2="391.5" stroke="#333" stroke-width="0.8"/>
<text x="57.3" y="455.4" font-size="3.4" fill="#666">10<tspan dy="-1.3" font-size="2.4">0</tspan></text>
<text x="77.9" y="455.4" font-size="3.4" fill="#666">10<tspan dy="-1.3" font-size="2.4">1</tspan></text>
<text x="98.5" y="455.4" font-size="3.4" fill="#666">10<tspan dy="-1.3" font-size="2.4">2</tspan></text>
<text x="119.1" y="455.4" font-size="3.4" fill="#666">10<tspan dy="-1.3" font-size="2.4">3</tspan></text>
<g clip-path="url(#cp1)">
<circle cx="87.0" cy="385.3" r="0.35" fill="#999" opacity="0.55"/>
<circle cx="113.3" cy="380.1" r="0.35" fill="#999" opacity="0.55"/>
<circle cx="104.0" cy="399.7" r="0.35" fill="#999" opacity="0.55"/>
<circle cx="65.6" cy="409.2" r="0.35" fill="#999" opacity="0.55"/>
<circle cx="63.9" cy="404.3" r="0.35" fill="#999" opacity="0.55"/>
<circle cx="66.5" cy="381.3" r="0.35" fill="#999" opacity="0.55"/>
<circle cx="95.1" cy="430.6" r="0.35" fill="#999" opacity="0.55"/>
<circle cx="70.9" cy="390.2" r="0.35" fill="#999" opacity="0.55"/>
<circle cx="111.4" cy="438.7" r="0.35" fill="#999" opacity="0.55"/>
<circle cx="107.4" cy="401.8" r="0.35" fill="#999" opacity="0.55"/>
<circle cx="139.5" cy="378.3" r="0.35" fill="#999" opacity="0.55"/>
<circle cx="130.0" cy="394.6" r="0.35" fill="#999" opacity="0.55"/>
<circle cx="72.5" cy="383.1" r="0.35" fill="#999" opacity="0.55"/>
<circle cx="85.7" cy="429.9" r="0.35" fill="#999" opacity="0.55"/>
<circle cx="75.4" cy="414.2" r="0.35" fill="#999" opacity="0.55"/>
<circle cx="112.3" cy="400.2" r="0.35" fill="#999" opacity="0.55"/>
<circle cx="105.0" cy="379.4" r="0.35" fill="#999" opacity="0.55"/>
<circle cx="65.7" cy="389.0" r="0.35" fill="#999" opacity="0.55"/>
<circle cx="115.7" cy="403.8" r="0.35" fill="#999" opacity="0.55"/>
<circle cx="86.2" cy="414.4" r="0.35" fill="#999" opacity="0.55"/>
<circle cx="97.4" cy="395.3" r="0.35" fill="#999" opacity="0.55"/>
<circle cx="124.8" cy="422.0" r="0.35" fill="#999" opacity="0.55"/>
<circle cx="80.5" cy="413.7" r="0.35" fill="#999" opacity="0.55"/>
<circle cx="103.2" cy="433.8" r="0.35" fill="#999" opacity="0.55"/>
<circle cx="119.6" cy="394.5" r="0.35" fill="#999" opacity="0.55"/>
<circle cx="139.8" cy="383.1" r="0.35" fill="#999" opacity="0.55"/>
<circle cx="94.6" cy="425.9" r="0.35" fill="#999" opacity="0.55"/>
<circle cx="73.1" cy="408.0" r="0.35" fill="#999" opacity="0.55"/>
<circle cx="64.1" cy="420.0" r="0.35" fill="#999" opacity="0.55"/>
<circle cx="122.4" cy="413.6" r="0.35" fill="#999" opacity="0.55"/>
<circle cx="131.4" cy="396.2" r="0.35" fill="#999" opacity="0.55"/>
<circle cx="116.9" cy="415.0" r="0.35" fill="#999" opacity="0.55"/>
<circle cx="107.6" cy="405.8" r="0.35" fill="#999" opacity="0.55"/>
<circle cx="128.5" cy="438.5" r="0.35" fill="#999" opacity="0.55"/>
<circle cx="99.1" cy="419.7" r="0.35" fill="#999" opacity="0.55"/>
<circle cx="65.8" cy="422.2" r="0.35" fill="#999" opacity="0.55"/>
<circle cx="113.0" cy="441.7" r="0.35" fill="#999" opacity="0.55"/>
<circle cx="127.1" cy="394.3" r="0.35" fill="#999" opacity="0.55"/>
<circle cx="92.0" cy="420.0" r="0.35" fill="#999" opacity="0.55"/>
<circle cx="62.7" cy="406.1" r="0.35" fill="#999" opacity="0.55"/>
<circle cx="74.4" cy="383.0" r="0.35" fill="#999" opacity="0.55"/>
<circle cx="65.6" cy="426.7" r="0.35" fill="#999" opacity="0.55"/>
<circle cx="71.3" cy="391.8" r="0.35" fill="#999" opacity="0.55"/>
<circle cx="92.4" cy="433.6" r="0.35" fill="#999" opacity="0.55"/>
<circle cx="67.4" cy="405.3" r="0.35" fill="#999" opacity="0.55"/>
<circle cx="105.1" cy="434.4" r="0.35" fill="#999" opacity="0.55"/>
<circle cx="126.9" cy="433.1" r="0.35" fill="#999" opacity="0.55"/>
<circle cx="83.3" cy="403.0" r="0.35" fill="#999" opacity="0.55"/>
<circle cx="89.8" cy="434.4" r="0.35" fill="#999" opacity="0.55"/>
<circle cx="138.0" cy="385.3" r="0.35" fill="#999" opacity="0.55"/>
<circle cx="75.1" cy="390.7" r="0.35" fill="#999" opacity="0.55"/>
<circle cx="79.7" cy="407.7" r="0.35" fill="#999" opacity="0.55"/>
<circle cx="108.3" cy="392.8" r="0.35" fill="#999" opacity="0.55"/>
<circle cx="61.2" cy="403.3" r="0.35" fill="#999" opacity="0.55"/>
<circle cx="90.6" cy="413.1" r="0.35" fill="#999" opacity="0.55"/>
<circle cx="137.6" cy="421.5" r="0.35" fill="#999" opacity="0.55"/>
<circle cx="102.4" cy="416.6" r="0.35" fill="#999" opacity="0.55"/>
<circle cx="115.3" cy="378.8" r="0.35" fill="#999" opacity="0.55"/>
<circle cx="133.3" cy="427.5" r="0.35" fill="#999" opacity="0.55"/>
<circle cx="131.3" cy="428.7" r="0.35" fill="#999" opacity="0.55"/>
<circle cx="92.5" cy="401.9" r="0.35" fill="#999" opacity="0.55"/>
<circle cx="69.2" cy="417.7" r="0.35" fill="#999" opacity="0.55"/>
<circle cx="65.9" cy="379.7" r="0.35" fill="#999" opacity="0.55"/>
<circle cx="77.7" cy="386.1" r="0.35" fill="#999" opacity="0.55"/>
<circle cx="88.3" cy="378.7" r="0.35" fill="#999" opacity="0.55"/>
<circle cx="60.9" cy="385.3" r="0.35" fill="#999" opacity="0.55"/>
<circle cx="69.1" cy="399.6" r="0.35" fill="#999" opacity="0.55"/>
<circle cx="63.0" cy="433.8" r="0.35" fill="#999" opacity="0.55"/>
<circle cx="110.3" cy="385.2" r="0.35" fill="#999" opacity="0.55"/>
<circle cx="81.2" cy="398.5" r="0.35" fill="#999" opacity="0.55"/>
<path d="M64.2,424.2 C65.2,424.0 67.4,423.4 70.0,423.2 C72.6,423.0 76.7,422.9 80.0,422.8 C83.3,422.7 87.2,422.9 90.0,422.4 C92.8,421.9 94.7,420.1 97.0,419.8 C99.3,419.5 101.8,420.3 104.0,420.6 C106.2,420.9 108.0,421.8 110.0,421.4 C112.0,421.0 114.3,419.5 116.0,418.4 C117.7,417.3 118.9,416.2 120.0,415.0 C121.1,413.8 121.8,412.5 122.4,411.0 C123.1,409.5 123.5,407.7 123.9,406.0 C124.3,404.3 124.3,402.6 124.6,401.0 C124.8,399.4 125.1,397.6 125.4,396.4 C125.7,395.2 126.0,394.2 126.4,393.6 C126.8,393.0 127.2,392.8 127.7,392.8 C128.2,392.8 128.8,393.1 129.4,393.8 C130.0,394.5 130.5,395.6 131.0,397.0 C131.5,398.4 131.9,400.0 132.2,402.0 C132.5,404.0 132.7,406.5 133.0,409.0 C133.3,411.5 133.9,414.5 134.2,417.0 C134.5,419.5 134.8,421.5 135.0,424.0 C135.2,426.5 135.3,428.7 135.5,432.0 C135.7,435.3 135.8,442.0 135.9,444.0" fill="none" stroke="#000" stroke-width="0.85"/>
<path d="M64.4,426.6 C65.3,426.4 67.4,425.7 70.0,425.4 C72.6,425.1 76.7,425.1 80.0,425.0 C83.3,424.9 87.2,425.2 90.0,424.8 C92.8,424.4 94.7,422.9 97.0,422.6 C99.3,422.3 101.8,423.0 104.0,423.2 C106.2,423.4 108.0,424.2 110.0,423.8 C112.0,423.4 114.3,422.0 116.0,421.0 C117.7,420.0 119.2,418.7 120.4,417.6 C121.6,416.5 122.5,415.3 123.4,414.4 C124.3,413.5 124.9,412.9 125.6,412.4 C126.3,411.9 126.9,411.5 127.6,411.6 C128.3,411.7 129.0,412.1 129.6,412.8 C130.2,413.5 130.9,414.6 131.4,416.0 C131.9,417.4 132.4,419.0 132.8,421.0 C133.2,423.0 133.5,425.5 133.8,428.0 C134.1,430.5 134.3,433.3 134.4,436.0 C134.5,438.7 134.6,442.7 134.6,444.0" fill="none" stroke="#000" stroke-width="0.85"/>
<path d="M64.6,429.0 C65.5,428.8 67.4,427.9 70.0,427.6 C72.6,427.3 77.0,427.1 80.0,427.0 C83.0,426.9 85.7,427.2 88.0,427.0 C90.3,426.8 92.0,425.8 94.0,425.6 C96.0,425.4 98.0,425.8 100.0,426.0 C102.0,426.2 104.2,427.1 106.0,427.0 C107.8,426.9 109.4,426.3 111.0,425.6 C112.6,424.9 114.1,424.0 115.4,423.0 C116.7,422.0 117.8,420.7 119.0,419.6 C120.2,418.5 121.3,417.4 122.4,416.6 C123.5,415.8 124.5,415.0 125.4,414.6 C126.3,414.2 126.9,413.9 127.6,414.0 C128.3,414.1 129.0,414.6 129.6,415.4 C130.2,416.2 130.6,417.6 131.0,419.0 C131.4,420.4 131.7,422.2 132.0,424.0 C132.3,425.8 132.6,427.7 132.8,430.0 C133.0,432.3 133.1,435.7 133.2,438.0 C133.3,440.3 133.4,443.0 133.4,444.0" fill="none" stroke="#000" stroke-width="0.85"/>
<path d="M79.0,434.6 C79.0,435.0 78.8,435.4 78.4,435.6 C78.1,435.8 77.5,435.8 77.1,435.8 C76.6,435.8 76.2,435.7 75.7,435.6 C75.3,435.5 74.7,435.3 74.5,435.0 C74.2,434.8 74.2,434.3 74.2,434.0 C74.3,433.7 74.7,433.4 75.0,433.2 C75.3,433.0 75.7,432.7 76.1,432.7 C76.5,432.6 77.1,432.7 77.5,432.9 C77.9,433.0 78.2,433.4 78.5,433.7 C78.7,434.0 79.0,434.3 79.0,434.6Z" fill="none" stroke="#000" stroke-width="0.85"/>
<path d="M81.0,434.9 C80.9,435.5 80.3,436.1 79.7,436.5 C79.2,436.8 78.2,436.9 77.4,436.9 C76.6,437.0 75.7,437.1 74.9,436.9 C74.1,436.7 73.0,436.2 72.6,435.6 C72.3,435.1 72.4,434.3 72.6,433.7 C72.8,433.2 73.2,432.7 73.7,432.3 C74.2,431.9 74.9,431.4 75.7,431.3 C76.4,431.2 77.5,431.4 78.3,431.7 C79.0,432.0 79.6,432.6 80.1,433.1 C80.5,433.7 81.0,434.4 81.0,434.9Z" fill="none" stroke="#000" stroke-width="0.85"/>
<path d="M82.8,435.2 C82.6,436.0 81.7,436.8 80.9,437.3 C80.1,437.9 79.0,438.2 77.8,438.3 C76.7,438.5 75.1,438.7 74.0,438.3 C72.9,437.9 71.7,436.9 71.3,436.1 C70.8,435.3 71.1,434.4 71.3,433.6 C71.4,432.7 71.5,431.9 72.2,431.2 C72.8,430.6 74.1,429.8 75.2,429.7 C76.3,429.6 77.9,430.2 79.0,430.7 C80.0,431.1 81.0,431.8 81.6,432.6 C82.2,433.3 82.9,434.4 82.8,435.2Z" fill="none" stroke="#000" stroke-width="0.85"/>
<path d="M84.7,435.4 C84.5,436.5 83.3,437.5 82.2,438.3 C81.2,439.0 79.8,439.6 78.3,439.8 C76.8,440.0 74.6,440.0 73.3,439.5 C71.9,438.9 70.9,437.5 70.2,436.5 C69.6,435.5 69.5,434.4 69.5,433.3 C69.5,432.2 69.5,430.7 70.4,429.9 C71.3,429.1 73.3,428.5 74.8,428.5 C76.4,428.4 78.1,429.2 79.5,429.8 C80.9,430.4 82.3,431.1 83.2,432.0 C84.0,433.0 84.8,434.4 84.7,435.4Z" fill="none" stroke="#000" stroke-width="0.85"/>
<path d="M86.6,435.7 C86.3,437.0 84.8,438.2 83.4,439.1 C82.1,440.0 80.5,441.0 78.7,441.2 C76.9,441.4 74.3,441.1 72.7,440.4 C71.1,439.7 69.9,438.2 68.9,437.0 C68.0,435.7 67.1,434.3 67.1,433.0 C67.0,431.6 67.5,429.6 68.8,428.8 C70.0,427.9 72.7,427.7 74.6,427.7 C76.5,427.7 78.3,428.3 80.1,428.9 C81.8,429.5 84.1,430.2 85.2,431.3 C86.3,432.4 86.9,434.4 86.6,435.7Z" fill="none" stroke="#000" stroke-width="0.85"/>
<path d="M87.7,435.9 C87.2,437.4 85.8,438.7 84.3,439.8 C82.9,440.9 81.1,442.2 79.0,442.5 C77.0,442.8 74.0,442.3 72.1,441.4 C70.1,440.6 68.5,439.0 67.4,437.6 C66.2,436.1 64.8,434.2 64.9,432.7 C65.0,431.1 66.4,429.1 67.9,428.1 C69.5,427.2 72.3,427.1 74.5,427.0 C76.6,426.9 78.8,426.8 81.0,427.4 C83.1,428.0 86.1,429.2 87.2,430.6 C88.3,432.0 88.2,434.3 87.7,435.9Z" fill="none" stroke="#000" stroke-width="0.85"/>
<path d="M121.7,431.0 C121.8,430.7 122.0,430.6 122.1,430.4 C122.2,430.1 122.4,429.9 122.5,429.7 C122.6,429.5 122.8,429.3 122.9,429.1 C123.0,428.8 123.2,428.6 123.3,428.4 C123.5,428.2 123.6,428.0 123.8,427.8 C123.9,427.6 124.1,427.3 124.3,427.1 C124.5,426.9 124.6,426.5 124.9,426.5 C125.1,426.5 125.3,426.9 125.5,427.1 C125.7,427.3 125.7,427.6 125.8,427.8 C125.9,428.0 125.9,428.2 126.0,428.4 C126.1,428.6 126.2,428.8 126.2,429.1 C126.3,429.3 126.3,429.5 126.4,429.7 C126.5,429.9 126.5,430.1 126.6,430.4 C126.6,430.6 126.7,430.7 126.7,431.0 C126.7,431.3 126.7,431.9 126.5,432.4 C126.4,432.8 126.2,433.2 126.0,433.5 C125.8,433.8 125.5,434.1 125.2,434.3 C124.9,434.4 124.6,434.5 124.3,434.5 C124.0,434.5 123.6,434.4 123.3,434.3 C123.0,434.1 122.7,433.8 122.5,433.5 C122.3,433.2 122.1,432.8 121.9,432.4 C121.8,431.9 121.7,431.3 121.7,431.0Z" fill="#000" fill-opacity="0.06" stroke="#000" stroke-width="0.6375"/>
<path d="M120.6,431.0 C120.7,430.6 121.0,430.4 121.2,430.1 C121.4,429.8 121.6,429.5 121.8,429.3 C122.0,429.0 122.2,428.7 122.4,428.4 C122.6,428.1 122.9,427.8 123.1,427.5 C123.3,427.2 123.5,426.9 123.8,426.6 C124.0,426.4 124.3,426.1 124.6,425.8 C124.8,425.5 125.2,424.9 125.5,424.9 C125.8,424.9 126.0,425.5 126.2,425.8 C126.4,426.1 126.4,426.4 126.5,426.6 C126.6,426.9 126.7,427.2 126.8,427.5 C126.8,427.8 126.9,428.1 127.0,428.4 C127.1,428.7 127.1,429.0 127.2,429.3 C127.2,429.5 127.3,429.8 127.4,430.1 C127.4,430.4 127.6,430.6 127.5,431.0 C127.5,431.4 127.5,432.2 127.3,432.8 C127.1,433.3 126.9,433.9 126.6,434.3 C126.3,434.7 125.9,435.1 125.5,435.3 C125.2,435.6 124.7,435.7 124.3,435.7 C123.9,435.7 123.3,435.6 122.9,435.3 C122.5,435.1 122.0,434.7 121.7,434.3 C121.4,433.9 121.1,433.3 120.9,432.8 C120.7,432.2 120.6,431.4 120.6,431.0Z" fill="#000" fill-opacity="0.06" stroke="#000" stroke-width="0.6375"/>
<path d="M119.4,431.0 C119.4,430.4 119.9,430.3 120.2,429.9 C120.4,429.6 120.7,429.2 121.0,428.9 C121.3,428.5 121.6,428.1 121.8,427.8 C122.1,427.4 122.4,427.1 122.8,426.7 C123.1,426.3 123.4,426.0 123.7,425.6 C124.1,425.3 124.4,424.9 124.8,424.6 C125.2,424.2 125.8,423.5 126.2,423.5 C126.5,423.5 126.7,424.2 126.9,424.6 C127.1,424.9 127.1,425.3 127.2,425.6 C127.3,426.0 127.4,426.3 127.5,426.7 C127.6,427.1 127.7,427.4 127.8,427.8 C127.8,428.1 127.9,428.5 128.0,428.9 C128.0,429.2 128.1,429.6 128.2,429.9 C128.2,430.3 128.4,430.4 128.4,431.0 C128.3,431.6 128.2,432.5 128.1,433.2 C127.9,433.9 127.5,434.6 127.2,435.1 C126.8,435.6 126.3,436.1 125.9,436.4 C125.4,436.7 124.9,436.8 124.3,436.8 C123.7,436.8 123.0,436.7 122.4,436.4 C121.8,436.1 121.3,435.6 120.8,435.1 C120.4,434.6 120.0,433.9 119.7,433.2 C119.5,432.5 119.3,431.6 119.4,431.0Z" fill="#000" fill-opacity="0.06" stroke="#000" stroke-width="0.85"/>
<path d="M117.9,431.0 C118.0,430.3 118.6,430.2 119.0,429.7 C119.3,429.3 119.7,428.9 120.1,428.5 C120.4,428.1 120.8,427.6 121.2,427.2 C121.6,426.8 121.9,426.4 122.4,425.9 C122.8,425.5 123.2,425.1 123.6,424.7 C124.1,424.3 124.5,423.8 125.0,423.4 C125.5,423.0 126.4,422.2 126.8,422.2 C127.2,422.2 127.4,423.0 127.6,423.4 C127.8,423.8 127.9,424.3 128.0,424.7 C128.1,425.1 128.2,425.5 128.3,425.9 C128.4,426.4 128.4,426.8 128.5,427.2 C128.6,427.6 128.7,428.1 128.8,428.5 C128.8,428.9 128.9,429.3 129.0,429.7 C129.0,430.2 129.2,430.3 129.2,431.0 C129.2,431.7 129.0,432.8 128.8,433.7 C128.6,434.5 128.2,435.3 127.8,435.9 C127.3,436.5 126.7,437.1 126.2,437.4 C125.6,437.8 125.0,438.0 124.3,438.0 C123.6,438.0 122.6,437.8 121.9,437.4 C121.1,437.1 120.4,436.5 119.8,435.9 C119.2,435.3 118.7,434.5 118.4,433.7 C118.1,432.8 117.8,431.7 117.9,431.0Z" fill="#000" fill-opacity="0.06" stroke="#000" stroke-width="0.85"/>
<path d="M116.4,431.0 C116.5,430.2 117.2,430.0 117.6,429.6 C118.0,429.1 118.5,428.6 118.9,428.1 C119.3,427.6 119.7,427.2 120.2,426.7 C120.6,426.2 121.1,425.7 121.6,425.2 C122.0,424.7 122.5,424.3 123.0,423.8 C123.6,423.3 124.1,422.8 124.7,422.3 C125.3,421.9 126.3,420.9 126.8,420.9 C127.3,420.9 127.6,421.9 127.9,422.3 C128.1,422.8 128.2,423.3 128.4,423.8 C128.5,424.3 128.6,424.7 128.8,425.2 C128.9,425.7 129.0,426.2 129.1,426.7 C129.2,427.2 129.3,427.6 129.4,428.1 C129.5,428.6 129.6,429.1 129.7,429.6 C129.8,430.0 130.0,430.2 130.0,431.0 C130.0,431.8 129.8,433.1 129.6,434.1 C129.3,435.1 128.8,436.0 128.3,436.7 C127.8,437.5 127.2,438.1 126.5,438.5 C125.8,438.9 125.2,439.1 124.3,439.1 C123.4,439.1 122.2,438.9 121.3,438.5 C120.3,438.1 119.4,437.5 118.7,436.7 C118.0,436.0 117.4,435.1 117.0,434.1 C116.6,433.1 116.3,431.8 116.4,431.0Z" fill="#000" fill-opacity="0.06" stroke="#000" stroke-width="0.85"/>
<path d="M114.8,431.0 C114.9,430.1 115.7,429.9 116.2,429.4 C116.7,428.8 117.1,428.3 117.6,427.8 C118.1,427.2 118.6,426.7 119.2,426.2 C119.7,425.6 120.2,425.1 120.7,424.5 C121.3,424.0 121.9,423.5 122.5,422.9 C123.1,422.4 123.6,421.8 124.3,421.3 C125.1,420.8 126.2,419.7 126.8,419.7 C127.4,419.7 127.8,420.8 128.1,421.3 C128.4,421.8 128.6,422.4 128.7,422.9 C128.9,423.5 129.1,424.0 129.3,424.5 C129.4,425.1 129.6,425.6 129.7,426.2 C129.8,426.7 130.0,427.2 130.1,427.8 C130.2,428.3 130.4,428.8 130.5,429.4 C130.6,429.9 130.8,430.1 130.8,431.0 C130.8,431.9 130.6,433.4 130.3,434.5 C130.0,435.6 129.5,436.7 128.9,437.5 C128.3,438.4 127.6,439.1 126.8,439.5 C126.0,440.0 125.3,440.2 124.3,440.2 C123.3,440.2 121.8,440.0 120.7,439.5 C119.5,439.1 118.4,438.4 117.6,437.5 C116.7,436.7 116.0,435.6 115.5,434.5 C115.0,433.4 114.7,431.9 114.8,431.0Z" fill="#000" fill-opacity="0.06" stroke="#000" stroke-width="0.85"/>
<path d="M113.1,431.0 C113.2,430.0 114.1,429.8 114.7,429.2 C115.2,428.6 115.8,428.0 116.3,427.4 C116.9,426.8 117.5,426.2 118.1,425.7 C118.6,425.1 119.2,424.5 119.9,423.9 C120.5,423.3 121.1,422.7 121.8,422.1 C122.5,421.5 123.2,420.9 124.0,420.3 C124.8,419.7 126.1,418.5 126.8,418.5 C127.5,418.5 128.0,419.7 128.4,420.3 C128.8,420.9 128.9,421.5 129.1,422.1 C129.4,422.7 129.6,423.3 129.8,423.9 C129.9,424.5 130.1,425.1 130.3,425.7 C130.5,426.2 130.6,426.8 130.8,427.4 C130.9,428.0 131.1,428.6 131.2,429.2 C131.4,429.8 131.7,430.0 131.6,431.0 C131.6,432.0 131.4,433.7 131.1,435.0 C130.7,436.2 130.2,437.4 129.5,438.3 C128.8,439.3 128.0,440.1 127.1,440.6 C126.2,441.1 125.5,441.4 124.3,441.4 C123.1,441.4 121.3,441.1 120.0,440.6 C118.7,440.1 117.4,439.3 116.4,438.3 C115.3,437.4 114.5,436.2 113.9,435.0 C113.4,433.7 112.9,432.0 113.1,431.0Z" fill="#000" fill-opacity="0.06" stroke="#000" stroke-width="0.85"/>
<path d="M111.3,431.0 C111.4,429.9 112.5,429.7 113.1,429.1 C113.7,428.4 114.3,427.8 115.0,427.1 C115.6,426.5 116.2,425.8 116.9,425.2 C117.6,424.5 118.3,423.9 119.0,423.2 C119.7,422.6 120.4,421.9 121.2,421.3 C121.9,420.6 122.7,420.0 123.6,419.3 C124.5,418.7 126.0,417.4 126.8,417.4 C127.6,417.4 128.2,418.7 128.6,419.3 C129.1,420.0 129.3,420.6 129.5,421.3 C129.8,421.9 130.0,422.6 130.2,423.2 C130.5,423.9 130.7,424.5 130.9,425.2 C131.1,425.8 131.3,426.5 131.4,427.1 C131.6,427.8 131.8,428.4 132.0,429.1 C132.1,429.7 132.5,429.9 132.5,431.0 C132.4,432.1 132.2,434.1 131.8,435.4 C131.4,436.8 130.8,438.1 130.1,439.1 C129.3,440.2 128.4,441.1 127.4,441.6 C126.5,442.2 125.7,442.5 124.3,442.5 C122.9,442.5 120.9,442.2 119.3,441.6 C117.8,441.1 116.3,440.2 115.1,439.1 C113.9,438.1 112.9,436.8 112.3,435.4 C111.6,434.1 111.1,432.1 111.3,431.0Z" fill="#000" fill-opacity="0.06" stroke="#000" stroke-width="0.85"/>
<path d="M109.4,431.0 C109.6,429.8 110.8,429.6 111.4,428.9 C112.1,428.2 112.8,427.5 113.5,426.8 C114.3,426.1 115.0,425.4 115.7,424.7 C116.5,424.0 117.2,423.3 118.0,422.6 C118.8,421.9 119.6,421.2 120.5,420.5 C121.3,419.8 122.2,419.1 123.2,418.4 C124.3,417.7 125.9,416.3 126.8,416.3 C127.7,416.3 128.4,417.7 128.9,418.4 C129.4,419.1 129.6,419.8 129.9,420.5 C130.2,421.2 130.5,421.9 130.7,422.6 C131.0,423.3 131.2,424.0 131.5,424.7 C131.7,425.4 131.9,426.1 132.1,426.8 C132.3,427.5 132.5,428.2 132.7,428.9 C132.9,429.6 133.3,429.8 133.3,431.0 C133.3,432.2 133.0,434.4 132.6,435.8 C132.2,437.3 131.5,438.8 130.6,440.0 C129.8,441.1 128.8,442.1 127.7,442.7 C126.7,443.3 125.8,443.7 124.3,443.7 C122.8,443.7 120.4,443.3 118.6,442.7 C116.9,442.1 115.1,441.1 113.8,440.0 C112.4,438.8 111.3,437.3 110.6,435.8 C109.8,434.4 109.3,432.2 109.4,431.0Z" fill="#000" fill-opacity="0.06" stroke="#000" stroke-width="0.85"/>
<path d="M107.5,431.0 C107.7,429.7 109.0,429.5 109.8,428.7 C110.5,428.0 111.3,427.2 112.1,426.5 C112.9,425.7 113.7,425.0 114.5,424.2 C115.3,423.5 116.2,422.7 117.1,422.0 C117.9,421.2 118.8,420.5 119.8,419.7 C120.7,419.0 121.6,418.2 122.8,417.5 C124.0,416.7 125.7,415.2 126.8,415.2 C127.9,415.2 128.6,416.7 129.1,417.5 C129.7,418.2 129.9,419.0 130.3,419.7 C130.6,420.5 130.9,421.2 131.2,422.0 C131.5,422.7 131.8,423.5 132.0,424.2 C132.3,425.0 132.5,425.7 132.8,426.5 C133.0,427.2 133.2,428.0 133.5,428.7 C133.7,429.5 134.1,429.7 134.1,431.0 C134.1,432.3 133.8,434.7 133.4,436.3 C132.9,437.9 132.1,439.5 131.2,440.8 C130.3,442.0 129.2,443.1 128.1,443.7 C126.9,444.4 126.0,444.8 124.3,444.8 C122.6,444.8 119.9,444.4 117.9,443.7 C115.9,443.1 113.9,442.0 112.4,440.8 C110.9,439.5 109.6,437.9 108.8,436.3 C108.0,434.7 107.3,432.3 107.5,431.0Z" fill="#000" fill-opacity="0.06" stroke="#000" stroke-width="0.85"/>
<ellipse cx="124.3" cy="431.2" rx="1.7" ry="2.2" fill="#fff" stroke="#000" stroke-width="0.5"/>
<path d="M128.2,419.4 C128.2,419.7 128.1,420.1 128.0,420.3 C127.8,420.6 127.6,420.8 127.4,420.9 C127.1,421.0 126.9,421.0 126.6,420.9 C126.4,420.8 126.2,420.6 126.0,420.3 C125.9,420.1 125.8,419.7 125.8,419.4 C125.8,419.1 125.9,418.7 126.0,418.5 C126.2,418.2 126.4,418.0 126.6,417.9 C126.9,417.8 127.1,417.8 127.4,417.9 C127.6,418.0 127.8,418.2 128.0,418.5 C128.1,418.7 128.2,419.1 128.2,419.4Z" fill="none" stroke="#000" stroke-width="0.6"/>
<path d="M95.5,428.1 C95.7,428.4 95.6,428.9 95.2,429.1 C94.8,429.4 93.8,429.6 93.1,429.7 C92.5,429.9 91.9,430.0 91.2,430.0 C90.6,430.0 89.6,430.1 89.1,430.0 C88.6,429.8 88.4,429.4 88.5,429.1 C88.5,428.8 89.0,428.4 89.4,428.1 C89.8,427.9 90.2,427.5 90.7,427.3 C91.3,427.1 92.2,427.0 92.9,427.0 C93.5,427.0 93.9,427.3 94.4,427.4 C94.8,427.6 95.4,427.8 95.5,428.1Z" fill="none" stroke="#000" stroke-width="0.7"/>
<path d="M99.0,427.6 C99.1,428.2 98.4,429.0 97.6,429.6 C96.8,430.1 95.3,430.4 94.1,430.7 C92.9,431.1 91.6,431.6 90.3,431.7 C89.0,431.8 87.0,431.7 86.2,431.4 C85.5,431.0 85.7,430.1 85.8,429.5 C86.0,428.9 86.4,428.3 87.0,427.7 C87.6,427.2 88.3,426.4 89.4,426.0 C90.6,425.6 92.4,425.5 93.7,425.5 C94.9,425.6 95.9,425.9 96.8,426.3 C97.7,426.6 98.9,427.1 99.0,427.6Z" fill="none" stroke="#000" stroke-width="0.7"/>
<path d="M102.8,439.8 C102.9,440.1 102.7,440.5 102.2,440.7 C101.7,440.9 100.5,441.0 99.7,441.0 C98.9,441.0 98.3,441.0 97.5,441.0 C96.7,441.0 95.5,440.9 95.0,440.7 C94.5,440.5 94.3,440.1 94.4,439.8 C94.5,439.5 95.1,439.3 95.6,439.0 C96.1,438.8 96.6,438.5 97.3,438.4 C98.0,438.3 99.2,438.3 99.9,438.4 C100.6,438.5 101.1,438.8 101.6,439.0 C102.1,439.3 102.7,439.5 102.8,439.8Z" fill="none" stroke="#000" stroke-width="0.7"/>
<path d="M107.2,439.8 C107.2,440.3 106.2,441.0 105.1,441.3 C104.1,441.7 102.3,441.8 100.7,441.9 C99.2,442.1 97.6,442.4 96.1,442.3 C94.5,442.3 92.0,442.0 91.2,441.5 C90.4,441.1 90.8,440.3 91.0,439.8 C91.3,439.3 91.9,438.9 92.8,438.4 C93.6,438.0 94.6,437.4 96.0,437.2 C97.4,437.0 99.6,437.1 101.1,437.3 C102.6,437.5 103.8,437.9 104.8,438.3 C105.8,438.8 107.1,439.3 107.2,439.8Z" fill="none" stroke="#000" stroke-width="0.7"/>
<path d="M111.2,439.8 C111.2,440.5 109.4,441.4 107.9,441.9 C106.4,442.5 104.3,442.9 102.1,443.2 C99.8,443.5 96.7,444.0 94.5,443.8 C92.2,443.7 89.4,442.8 88.4,442.1 C87.4,441.5 88.2,440.6 88.3,439.8 C88.5,439.0 88.0,438.3 89.0,437.6 C90.1,436.9 92.3,436.0 94.5,435.8 C96.7,435.5 100.0,435.9 102.2,436.3 C104.5,436.6 106.4,437.1 107.9,437.7 C109.4,438.3 111.2,439.1 111.2,439.8Z" fill="none" stroke="#000" stroke-width="0.7"/>
<path d="M86.4,436.0 C87.3,435.6 89.7,433.8 92.0,433.4 C94.3,433.0 97.3,434.0 100.0,433.8 C102.7,433.6 105.7,433.2 108.0,432.4 C110.3,431.6 112.7,429.6 113.6,429.0" fill="none" stroke="#000" stroke-width="0.7"/>
<path d="M87.0,441.0 C88.0,440.2 90.5,437.2 93.0,436.4 C95.5,435.6 99.2,436.0 102.0,436.0 C104.8,436.0 107.8,435.9 110.0,436.6 C112.2,437.3 114.2,439.4 115.0,440.0" fill="none" stroke="#000" stroke-width="0.65"/>
<path d="M100.0,430.6 C100.8,430.3 103.3,428.8 105.0,428.6 C106.7,428.4 108.7,428.7 110.0,429.4 C111.3,430.1 112.8,431.7 113.0,433.0 C113.2,434.3 111.3,436.7 111.0,437.4" fill="none" stroke="#000" stroke-width="0.6"/>
<path d="M58,416.4 L60.0,416.8 C62.2,418 63.4,420.2 63.8,423.6 C64.0,430 64.1,436 64.4,440.4 C64.8,442.8 66.4,443.9 69,444.0 L100,444.3 L128,444.0 L134.6,444.1 C136.2,445.4 136.8,447.4 137.0,451 L58,451 Z" fill="#000"/>
<path d="M64.6,441 C68,443.6 80,443.8 90,444 M110,443.8 C118,443.6 128,443.2 134.6,442" fill="none" stroke="#000" stroke-width="0.7"/>
</g>
<rect x="115.1" y="382.6" width="25.4" height="26.9" fill="none" stroke="#000" stroke-width="1.0"/>
<rect x="58.9" y="373.2" width="84.5" height="77.0" fill="none" stroke="#000" stroke-width="1.25"/>
<text x="97.6" y="396.4" font-size="8.3" fill="#222" stroke="#222" stroke-width="0.15" textLength="13.6" lengthAdjust="spacingAndGlyphs">2.3</text>
<clipPath id="cp2"><rect x="157.6" y="373.4" width="85.4" height="77.0"/></clipPath>
<text x="150.6" y="451.4" font-size="3.4" fill="#666">10<tspan dy="-1.3" font-size="2.4">0</tspan></text>
<line x1="155.8" y1="450.2" x2="157.6" y2="450.2" stroke="#333" stroke-width="0.8"/>
<text x="150.6" y="431.9" font-size="3.4" fill="#666">10<tspan dy="-1.3" font-size="2.4">1</tspan></text>
<line x1="155.8" y1="430.7" x2="157.6" y2="430.7" stroke="#333" stroke-width="0.8"/>
<text x="150.6" y="412.4" font-size="3.4" fill="#666">10<tspan dy="-1.3" font-size="2.4">2</tspan></text>
<line x1="155.8" y1="411.2" x2="157.6" y2="411.2" stroke="#333" stroke-width="0.8"/>
<text x="150.6" y="392.9" font-size="3.4" fill="#666">10<tspan dy="-1.3" font-size="2.4">3</tspan></text>
<line x1="155.8" y1="391.7" x2="157.6" y2="391.7" stroke="#333" stroke-width="0.8"/>
<text x="156.0" y="455.6" font-size="3.4" fill="#666">10<tspan dy="-1.3" font-size="2.4">0</tspan></text>
<text x="176.6" y="455.6" font-size="3.4" fill="#666">10<tspan dy="-1.3" font-size="2.4">1</tspan></text>
<text x="197.2" y="455.6" font-size="3.4" fill="#666">10<tspan dy="-1.3" font-size="2.4">2</tspan></text>
<text x="217.8" y="455.6" font-size="3.4" fill="#666">10<tspan dy="-1.3" font-size="2.4">3</tspan></text>
<g clip-path="url(#cp2)">
<circle cx="189.2" cy="383.6" r="0.35" fill="#999" opacity="0.55"/>
<circle cx="228.7" cy="441.9" r="0.35" fill="#999" opacity="0.55"/>
<circle cx="197.5" cy="407.8" r="0.35" fill="#999" opacity="0.55"/>
<circle cx="166.6" cy="382.2" r="0.35" fill="#999" opacity="0.55"/>
<circle cx="187.5" cy="393.1" r="0.35" fill="#999" opacity="0.55"/>
<circle cx="227.1" cy="386.2" r="0.35" fill="#999" opacity="0.55"/>
<circle cx="161.5" cy="439.1" r="0.35" fill="#999" opacity="0.55"/>
<circle cx="202.6" cy="385.2" r="0.35" fill="#999" opacity="0.55"/>
<circle cx="203.8" cy="377.2" r="0.35" fill="#999" opacity="0.55"/>
<circle cx="202.6" cy="441.0" r="0.35" fill="#999" opacity="0.55"/>
<circle cx="229.9" cy="422.0" r="0.35" fill="#999" opacity="0.55"/>
<circle cx="180.9" cy="400.0" r="0.35" fill="#999" opacity="0.55"/>
<circle cx="173.2" cy="427.1" r="0.35" fill="#999" opacity="0.55"/>
<circle cx="203.0" cy="427.6" r="0.35" fill="#999" opacity="0.55"/>
<circle cx="186.4" cy="390.3" r="0.35" fill="#999" opacity="0.55"/>
<circle cx="225.7" cy="441.4" r="0.35" fill="#999" opacity="0.55"/>
<circle cx="229.0" cy="429.4" r="0.35" fill="#999" opacity="0.55"/>
<circle cx="226.2" cy="425.0" r="0.35" fill="#999" opacity="0.55"/>
<circle cx="178.1" cy="410.1" r="0.35" fill="#999" opacity="0.55"/>
<circle cx="188.5" cy="377.3" r="0.35" fill="#999" opacity="0.55"/>
<circle cx="161.9" cy="394.1" r="0.35" fill="#999" opacity="0.55"/>
<circle cx="180.7" cy="421.8" r="0.35" fill="#999" opacity="0.55"/>
<circle cx="237.5" cy="405.4" r="0.35" fill="#999" opacity="0.55"/>
<circle cx="235.9" cy="441.6" r="0.35" fill="#999" opacity="0.55"/>
<circle cx="237.3" cy="399.8" r="0.35" fill="#999" opacity="0.55"/>
<circle cx="177.5" cy="390.6" r="0.35" fill="#999" opacity="0.55"/>
<circle cx="175.6" cy="389.1" r="0.35" fill="#999" opacity="0.55"/>
<circle cx="210.4" cy="435.7" r="0.35" fill="#999" opacity="0.55"/>
<circle cx="228.0" cy="407.5" r="0.35" fill="#999" opacity="0.55"/>
<circle cx="212.8" cy="429.0" r="0.35" fill="#999" opacity="0.55"/>
<circle cx="166.5" cy="419.7" r="0.35" fill="#999" opacity="0.55"/>
<circle cx="233.7" cy="427.8" r="0.35" fill="#999" opacity="0.55"/>
<circle cx="220.7" cy="407.4" r="0.35" fill="#999" opacity="0.55"/>
<circle cx="174.1" cy="428.3" r="0.35" fill="#999" opacity="0.55"/>
<circle cx="186.7" cy="429.1" r="0.35" fill="#999" opacity="0.55"/>
<circle cx="238.7" cy="401.9" r="0.35" fill="#999" opacity="0.55"/>
<circle cx="192.3" cy="438.8" r="0.35" fill="#999" opacity="0.55"/>
<circle cx="218.6" cy="386.8" r="0.35" fill="#999" opacity="0.55"/>
<circle cx="169.9" cy="385.5" r="0.35" fill="#999" opacity="0.55"/>
<circle cx="233.3" cy="429.4" r="0.35" fill="#999" opacity="0.55"/>
<circle cx="171.5" cy="430.8" r="0.35" fill="#999" opacity="0.55"/>
<circle cx="239.4" cy="419.4" r="0.35" fill="#999" opacity="0.55"/>
<circle cx="188.1" cy="412.2" r="0.35" fill="#999" opacity="0.55"/>
<circle cx="170.3" cy="376.4" r="0.35" fill="#999" opacity="0.55"/>
<circle cx="238.6" cy="418.9" r="0.35" fill="#999" opacity="0.55"/>
<circle cx="202.5" cy="438.0" r="0.35" fill="#999" opacity="0.55"/>
<circle cx="194.9" cy="433.8" r="0.35" fill="#999" opacity="0.55"/>
<circle cx="226.8" cy="389.5" r="0.35" fill="#999" opacity="0.55"/>
<circle cx="180.1" cy="395.0" r="0.35" fill="#999" opacity="0.55"/>
<circle cx="179.2" cy="414.7" r="0.35" fill="#999" opacity="0.55"/>
<circle cx="180.7" cy="403.5" r="0.35" fill="#999" opacity="0.55"/>
<circle cx="170.3" cy="436.4" r="0.35" fill="#999" opacity="0.55"/>
<circle cx="188.4" cy="406.1" r="0.35" fill="#999" opacity="0.55"/>
<circle cx="207.1" cy="436.0" r="0.35" fill="#999" opacity="0.55"/>
<circle cx="193.8" cy="436.9" r="0.35" fill="#999" opacity="0.55"/>
<circle cx="200.4" cy="411.0" r="0.35" fill="#999" opacity="0.55"/>
<circle cx="202.2" cy="376.7" r="0.35" fill="#999" opacity="0.55"/>
<circle cx="195.4" cy="387.7" r="0.35" fill="#999" opacity="0.55"/>
<circle cx="159.9" cy="428.9" r="0.35" fill="#999" opacity="0.55"/>
<circle cx="173.6" cy="407.1" r="0.35" fill="#999" opacity="0.55"/>
<circle cx="218.6" cy="412.7" r="0.35" fill="#999" opacity="0.55"/>
<circle cx="186.1" cy="410.1" r="0.35" fill="#999" opacity="0.55"/>
<circle cx="204.8" cy="427.9" r="0.35" fill="#999" opacity="0.55"/>
<circle cx="168.2" cy="412.9" r="0.35" fill="#999" opacity="0.55"/>
<circle cx="179.8" cy="394.0" r="0.35" fill="#999" opacity="0.55"/>
<circle cx="222.5" cy="409.4" r="0.35" fill="#999" opacity="0.55"/>
<circle cx="205.3" cy="426.3" r="0.35" fill="#999" opacity="0.55"/>
<circle cx="233.9" cy="405.1" r="0.35" fill="#999" opacity="0.55"/>
<circle cx="209.5" cy="409.3" r="0.35" fill="#999" opacity="0.55"/>
<circle cx="201.3" cy="421.8" r="0.35" fill="#999" opacity="0.55"/>
<path d="M164.4,429.4 C165.6,428.9 169.4,427.8 171.3,426.7 C173.2,425.6 174.5,424.0 176.0,422.6 C177.5,421.2 178.9,419.7 180.4,418.4 C181.9,417.1 183.5,415.7 185.0,414.6 C186.5,413.5 187.6,412.7 189.6,412.0 C191.6,411.3 194.8,410.5 196.9,410.6 C199.0,410.7 200.5,411.8 202.0,412.4 C203.5,412.9 204.4,413.9 206.0,413.9 C207.6,413.9 210.2,413.5 211.5,412.4 C212.8,411.3 213.5,409.6 214.0,407.5 C214.5,405.4 214.4,402.6 214.6,400.0 C214.8,397.4 214.6,394.4 215.2,392.0 C215.8,389.6 216.9,387.0 217.9,385.8 C218.9,384.6 219.9,384.5 221.0,384.6 C222.1,384.7 223.1,385.2 224.6,386.4 C226.1,387.6 228.5,390.1 229.8,392.0 C231.1,393.9 231.7,395.9 232.4,398.0 C233.2,400.1 233.7,402.0 234.3,404.7 C234.9,407.4 235.5,410.6 236.0,414.0 C236.5,417.4 237.0,421.5 237.4,424.8 C237.8,428.1 238.0,430.8 238.2,434.0 C238.4,437.2 238.4,442.3 238.5,444.0" fill="none" stroke="#000" stroke-width="0.85"/>
<path d="M164.6,431.6 C165.8,431.2 169.5,430.2 171.6,429.2 C173.7,428.2 175.3,426.7 177.0,425.4 C178.7,424.1 180.3,422.5 182.0,421.2 C183.7,419.9 185.3,418.4 187.0,417.4 C188.7,416.4 190.3,415.6 192.0,415.0 C193.7,414.4 195.3,413.6 197.0,413.6 C198.7,413.6 200.4,414.5 202.0,415.0 C203.6,415.5 204.8,416.5 206.4,416.6 C208.0,416.7 209.9,416.3 211.6,415.4 C213.2,414.5 215.2,412.9 216.3,411.0 C217.4,409.1 217.6,406.3 218.0,404.0 C218.4,401.7 218.5,398.8 218.9,397.0 C219.3,395.2 219.8,394.0 220.5,393.2 C221.2,392.4 222.1,392.2 223.0,392.3 C223.9,392.4 224.8,392.7 226.0,394.0 C227.2,395.3 228.8,397.7 230.0,400.0 C231.2,402.3 232.2,405.0 233.0,408.0 C233.8,411.0 234.5,414.3 235.0,418.0 C235.5,421.7 235.9,425.7 236.2,430.0 C236.5,434.3 236.5,441.7 236.6,444.0" fill="none" stroke="#000" stroke-width="0.85"/>
<path d="M164.8,434.0 C166.0,433.6 169.8,432.5 172.0,431.6 C174.2,430.7 176.1,429.6 178.0,428.4 C179.9,427.2 181.8,425.7 183.6,424.4 C185.4,423.1 187.0,421.5 188.6,420.4 C190.2,419.3 191.8,418.6 193.4,418.0 C195.0,417.4 196.5,416.8 198.0,416.8 C199.5,416.8 200.9,417.5 202.4,418.0 C203.9,418.5 205.4,419.5 207.0,419.6 C208.6,419.7 210.3,419.5 212.0,418.6 C213.7,417.7 215.7,416.3 217.0,414.4 C218.3,412.5 219.0,409.4 219.6,407.0 C220.2,404.6 220.2,401.8 220.6,400.0 C221.0,398.2 221.4,396.9 222.0,396.0 C222.6,395.1 223.3,394.7 224.0,394.8 C224.7,394.9 225.5,395.2 226.4,396.6 C227.3,398.0 228.7,400.6 229.6,403.0 C230.5,405.4 231.3,408.2 232.0,411.0 C232.7,413.8 233.3,416.5 233.8,420.0 C234.3,423.5 234.8,428.0 235.0,432.0 C235.2,436.0 235.2,442.0 235.3,444.0" fill="none" stroke="#000" stroke-width="0.85"/>
<path d="M165.0,436.4 C166.2,436.0 170.1,435.0 172.4,434.2 C174.7,433.4 176.9,432.4 179.0,431.4 C181.1,430.4 183.2,429.2 185.0,428.0 C186.8,426.8 188.4,425.1 190.0,424.0 C191.6,422.9 193.1,422.1 194.6,421.4 C196.1,420.7 197.6,420.1 199.0,420.0 C200.4,419.9 201.6,420.6 203.0,421.0 C204.4,421.4 206.0,422.5 207.6,422.6 C209.2,422.7 210.9,422.4 212.6,421.6 C214.3,420.8 216.6,419.5 218.0,417.6 C219.4,415.7 220.3,412.4 221.0,410.0 C221.7,407.6 221.6,404.9 222.0,403.0 C222.4,401.1 222.7,399.6 223.2,398.6 C223.7,397.6 224.2,397.1 224.8,397.2 C225.4,397.3 225.9,397.6 226.6,399.0 C227.3,400.4 228.3,403.3 229.0,405.6 C229.7,407.9 230.4,410.3 231.0,413.0 C231.6,415.7 232.2,418.5 232.6,422.0 C233.0,425.5 233.4,430.3 233.6,434.0 C233.8,437.7 233.8,442.3 233.9,444.0" fill="none" stroke="#000" stroke-width="0.85"/>
<path d="M221.9,430.5 C221.9,430.1 222.1,429.9 222.2,429.6 C222.3,429.3 222.4,429.0 222.4,428.6 C222.5,428.3 222.6,428.0 222.7,427.7 C222.8,427.4 222.9,427.1 223.0,426.8 C223.1,426.5 223.2,426.2 223.3,425.9 C223.4,425.5 223.5,425.2 223.6,424.9 C223.7,424.6 223.7,424.0 223.8,424.0 C224.0,424.0 224.3,424.6 224.5,424.9 C224.6,425.2 224.7,425.5 224.7,425.9 C224.8,426.2 224.9,426.5 224.9,426.8 C225.0,427.1 225.0,427.4 225.1,427.7 C225.2,428.0 225.2,428.3 225.2,428.6 C225.3,429.0 225.3,429.3 225.4,429.6 C225.4,429.9 225.5,430.1 225.5,430.5 C225.5,430.9 225.5,431.4 225.4,431.7 C225.3,432.1 225.1,432.5 225.0,432.8 C224.8,433.1 224.6,433.4 224.3,433.5 C224.1,433.7 223.8,433.8 223.6,433.8 C223.4,433.8 223.1,433.7 222.9,433.5 C222.7,433.4 222.5,433.1 222.4,432.8 C222.2,432.5 222.1,432.1 222.0,431.7 C221.9,431.4 221.9,430.9 221.9,430.5Z" fill="#000" fill-opacity="0.07" stroke="#000" stroke-width="0.675"/>
<path d="M221.2,430.5 C221.2,430.0 221.5,429.7 221.6,429.2 C221.7,428.8 221.9,428.4 222.0,428.0 C222.2,427.5 222.3,427.1 222.5,426.7 C222.6,426.3 222.7,425.8 222.9,425.4 C223.0,425.0 223.2,424.6 223.3,424.2 C223.5,423.7 223.7,423.3 223.8,422.9 C223.9,422.5 224.0,421.6 224.2,421.6 C224.4,421.6 224.8,422.5 225.0,422.9 C225.1,423.3 225.2,423.7 225.3,424.2 C225.4,424.6 225.4,425.0 225.5,425.4 C225.6,425.8 225.6,426.3 225.7,426.7 C225.8,427.1 225.8,427.5 225.9,428.0 C226.0,428.4 226.0,428.8 226.1,429.2 C226.1,429.7 226.2,430.0 226.2,430.5 C226.2,431.0 226.2,431.6 226.0,432.1 C225.9,432.6 225.7,433.0 225.5,433.4 C225.2,433.8 224.9,434.1 224.6,434.3 C224.3,434.5 223.9,434.6 223.6,434.6 C223.3,434.6 223.0,434.5 222.7,434.3 C222.4,434.1 222.1,433.8 221.9,433.4 C221.7,433.0 221.5,432.6 221.4,432.1 C221.2,431.6 221.1,431.0 221.2,430.5Z" fill="#000" fill-opacity="0.07" stroke="#000" stroke-width="0.675"/>
<path d="M220.4,430.5 C220.4,429.9 220.8,429.5 220.9,428.9 C221.1,428.4 221.3,427.9 221.5,427.4 C221.7,426.8 221.9,426.3 222.1,425.8 C222.3,425.3 222.5,424.7 222.7,424.2 C222.9,423.7 223.1,423.2 223.3,422.7 C223.5,422.1 223.8,421.6 224.0,421.1 C224.2,420.6 224.3,419.5 224.5,419.5 C224.8,419.5 225.2,420.6 225.4,421.1 C225.6,421.6 225.7,422.1 225.8,422.7 C225.9,423.2 226.0,423.7 226.1,424.2 C226.2,424.7 226.2,425.3 226.3,425.8 C226.4,426.3 226.5,426.8 226.5,427.4 C226.6,427.9 226.7,428.4 226.8,428.9 C226.8,429.5 226.9,429.9 226.9,430.5 C226.9,431.1 226.8,431.8 226.7,432.4 C226.5,433.0 226.3,433.6 226.0,434.0 C225.7,434.5 225.3,434.9 224.9,435.1 C224.5,435.4 224.0,435.5 223.6,435.5 C223.2,435.5 222.7,435.4 222.4,435.1 C222.0,434.9 221.6,434.5 221.3,434.0 C221.0,433.6 220.8,433.0 220.6,432.4 C220.5,431.8 220.3,431.1 220.4,430.5Z" fill="#000" fill-opacity="0.07" stroke="#000" stroke-width="0.675"/>
<path d="M219.5,430.5 C219.6,429.8 220.0,429.3 220.2,428.7 C220.5,428.0 220.7,427.4 221.0,426.8 C221.2,426.2 221.5,425.6 221.7,425.0 C222.0,424.4 222.3,423.7 222.5,423.1 C222.8,422.5 223.0,421.9 223.3,421.3 C223.6,420.7 223.8,420.1 224.1,419.4 C224.4,418.8 224.6,417.6 224.9,417.6 C225.2,417.6 225.7,418.8 225.9,419.4 C226.1,420.1 226.2,420.7 226.3,421.3 C226.4,421.9 226.5,422.5 226.7,423.1 C226.8,423.7 226.9,424.4 226.9,425.0 C227.0,425.6 227.1,426.2 227.2,426.8 C227.3,427.4 227.4,428.0 227.4,428.7 C227.5,429.3 227.7,429.8 227.7,430.5 C227.6,431.2 227.5,432.0 227.3,432.7 C227.1,433.4 226.8,434.1 226.5,434.6 C226.1,435.2 225.6,435.6 225.1,435.9 C224.7,436.2 224.1,436.4 223.6,436.4 C223.1,436.4 222.5,436.2 222.0,435.9 C221.5,435.6 221.1,435.2 220.7,434.6 C220.3,434.1 220.0,433.4 219.8,432.7 C219.6,432.0 219.4,431.2 219.5,430.5Z" fill="#000" fill-opacity="0.07" stroke="#000" stroke-width="0.9"/>
<path d="M218.5,430.5 C218.6,429.7 219.2,429.1 219.5,428.4 C219.8,427.7 220.1,427.0 220.4,426.3 C220.7,425.6 221.0,424.9 221.3,424.2 C221.7,423.5 222.0,422.8 222.3,422.1 C222.6,421.4 222.9,420.7 223.3,420.0 C223.6,419.3 223.9,418.6 224.3,417.9 C224.6,417.2 224.9,415.8 225.2,415.8 C225.6,415.8 226.1,417.2 226.4,417.9 C226.6,418.6 226.7,419.3 226.8,420.0 C227.0,420.7 227.1,421.4 227.2,422.1 C227.3,422.8 227.5,423.5 227.6,424.2 C227.7,424.9 227.8,425.6 227.8,426.3 C227.9,427.0 228.0,427.7 228.1,428.4 C228.2,429.1 228.4,429.7 228.4,430.5 C228.3,431.3 228.2,432.3 228.0,433.1 C227.8,433.9 227.4,434.6 227.0,435.2 C226.5,435.9 226.0,436.4 225.4,436.7 C224.9,437.0 224.2,437.2 223.6,437.2 C223.0,437.2 222.3,437.0 221.7,436.7 C221.1,436.4 220.5,435.9 220.0,435.2 C219.6,434.6 219.2,433.9 218.9,433.1 C218.7,432.3 218.5,431.3 218.5,430.5Z" fill="#000" fill-opacity="0.07" stroke="#000" stroke-width="0.9"/>
<path d="M217.6,430.5 C217.7,429.6 218.3,428.9 218.7,428.2 C219.0,427.4 219.4,426.6 219.8,425.8 C220.1,425.0 220.5,424.2 220.9,423.5 C221.3,422.7 221.7,421.9 222.0,421.1 C222.4,420.3 222.8,419.6 223.2,418.8 C223.6,418.0 224.0,417.2 224.4,416.4 C224.8,415.6 225.2,414.1 225.6,414.1 C226.0,414.1 226.5,415.6 226.8,416.4 C227.1,417.2 227.2,418.0 227.4,418.8 C227.5,419.6 227.7,420.3 227.8,421.1 C227.9,421.9 228.1,422.7 228.2,423.5 C228.3,424.2 228.4,425.0 228.5,425.8 C228.6,426.6 228.7,427.4 228.8,428.2 C228.9,428.9 229.1,429.6 229.1,430.5 C229.1,431.4 228.9,432.5 228.7,433.4 C228.4,434.3 228.0,435.2 227.5,435.9 C227.0,436.5 226.3,437.1 225.7,437.5 C225.0,437.9 224.3,438.1 223.6,438.1 C222.9,438.1 222.0,437.9 221.3,437.5 C220.6,437.1 219.9,436.5 219.3,435.9 C218.8,435.2 218.3,434.3 218.0,433.4 C217.7,432.5 217.5,431.4 217.6,430.5Z" fill="#000" fill-opacity="0.07" stroke="#000" stroke-width="0.9"/>
<path d="M216.5,430.5 C216.6,429.5 217.4,428.8 217.8,427.9 C218.2,427.1 218.6,426.2 219.1,425.3 C219.5,424.5 219.9,423.6 220.4,422.8 C220.8,421.9 221.2,421.0 221.7,420.2 C222.1,419.3 222.5,418.5 223.0,417.6 C223.4,416.7 223.9,415.9 224.3,415.0 C224.8,414.2 225.2,412.4 225.7,412.4 C226.2,412.4 226.8,414.2 227.2,415.0 C227.5,415.9 227.6,416.7 227.8,417.6 C228.0,418.5 228.1,419.3 228.3,420.2 C228.5,421.0 228.6,421.9 228.7,422.8 C228.9,423.6 229.0,424.5 229.1,425.3 C229.2,426.2 229.4,427.1 229.5,427.9 C229.6,428.8 229.8,429.5 229.8,430.5 C229.8,431.5 229.6,432.7 229.3,433.7 C229.0,434.7 228.5,435.7 228.0,436.5 C227.4,437.2 226.7,437.9 226.0,438.3 C225.2,438.7 224.4,438.9 223.6,438.9 C222.8,438.9 221.7,438.7 220.9,438.3 C220.1,437.9 219.2,437.2 218.6,436.5 C218.0,435.7 217.4,434.7 217.1,433.7 C216.7,432.7 216.4,431.5 216.5,430.5Z" fill="#000" fill-opacity="0.07" stroke="#000" stroke-width="0.9"/>
<path d="M215.5,430.5 C215.6,429.4 216.4,428.6 216.9,427.7 C217.3,426.8 217.8,425.8 218.3,424.9 C218.8,424.0 219.2,423.0 219.7,422.1 C220.2,421.1 220.7,420.2 221.2,419.3 C221.7,418.3 222.2,417.4 222.7,416.5 C223.2,415.5 223.7,414.6 224.2,413.7 C224.7,412.7 225.2,410.9 225.7,410.9 C226.2,410.9 227.0,412.7 227.4,413.7 C227.8,414.6 227.9,415.5 228.2,416.5 C228.4,417.4 228.6,418.3 228.7,419.3 C228.9,420.2 229.1,421.1 229.3,422.1 C229.4,423.0 229.6,424.0 229.7,424.9 C229.8,425.8 230.0,426.8 230.1,427.7 C230.3,428.6 230.5,429.4 230.5,430.5 C230.5,431.6 230.3,433.0 230.0,434.1 C229.6,435.2 229.1,436.2 228.5,437.1 C227.9,437.9 227.1,438.6 226.2,439.1 C225.4,439.5 224.6,439.8 223.6,439.8 C222.6,439.8 221.4,439.5 220.5,439.1 C219.5,438.6 218.6,437.9 217.8,437.1 C217.1,436.2 216.5,435.2 216.1,434.1 C215.7,433.0 215.3,431.6 215.5,430.5Z" fill="#000" fill-opacity="0.07" stroke="#000" stroke-width="0.9"/>
<path d="M214.4,430.5 C214.5,429.3 215.4,428.5 215.9,427.5 C216.4,426.5 217.0,425.5 217.5,424.4 C218.0,423.4 218.5,422.4 219.1,421.4 C219.6,420.4 220.1,419.4 220.7,418.4 C221.2,417.4 221.8,416.4 222.3,415.4 C222.9,414.4 223.4,413.3 224.0,412.3 C224.6,411.3 225.1,409.3 225.7,409.3 C226.3,409.3 227.2,411.3 227.7,412.3 C228.1,413.3 228.3,414.4 228.5,415.4 C228.8,416.4 229.0,417.4 229.2,418.4 C229.4,419.4 229.6,420.4 229.8,421.4 C230.0,422.4 230.1,423.4 230.3,424.4 C230.5,425.5 230.6,426.5 230.8,427.5 C230.9,428.5 231.2,429.3 231.2,430.5 C231.2,431.7 231.0,433.2 230.6,434.4 C230.3,435.6 229.7,436.8 229.0,437.7 C228.3,438.6 227.4,439.4 226.5,439.9 C225.6,440.4 224.7,440.7 223.6,440.7 C222.5,440.7 221.2,440.4 220.1,439.9 C219.0,439.4 217.9,438.6 217.1,437.7 C216.2,436.8 215.5,435.6 215.1,434.4 C214.6,433.2 214.2,431.7 214.4,430.5Z" fill="#000" fill-opacity="0.07" stroke="#000" stroke-width="0.9"/>
<path d="M213.2,430.5 C213.4,429.3 214.4,428.3 214.9,427.3 C215.5,426.2 216.1,425.1 216.7,424.0 C217.2,422.9 217.8,421.9 218.4,420.8 C219.0,419.7 219.6,418.6 220.2,417.5 C220.8,416.5 221.4,415.4 222.0,414.3 C222.6,413.2 223.2,412.1 223.8,411.1 C224.4,410.0 225.0,407.8 225.7,407.8 C226.4,407.8 227.4,410.0 227.9,411.1 C228.4,412.1 228.6,413.2 228.9,414.3 C229.2,415.4 229.4,416.5 229.6,417.5 C229.9,418.6 230.1,419.7 230.3,420.8 C230.5,421.9 230.7,422.9 230.9,424.0 C231.1,425.1 231.3,426.2 231.4,427.3 C231.6,428.3 231.9,429.3 231.9,430.5 C231.9,431.7 231.7,433.4 231.3,434.7 C230.9,436.0 230.2,437.3 229.5,438.3 C228.7,439.3 227.8,440.1 226.8,440.7 C225.8,441.2 224.8,441.5 223.6,441.5 C222.4,441.5 220.9,441.2 219.6,440.7 C218.4,440.1 217.2,439.3 216.3,438.3 C215.3,437.3 214.5,436.0 214.0,434.7 C213.5,433.4 213.1,431.7 213.2,430.5Z" fill="#000" fill-opacity="0.07" stroke="#000" stroke-width="0.9"/>
<path d="M212.1,430.5 C212.2,429.2 213.3,428.2 213.9,427.1 C214.6,425.9 215.2,424.8 215.8,423.6 C216.5,422.5 217.1,421.3 217.7,420.2 C218.4,419.0 219.0,417.9 219.7,416.7 C220.3,415.6 221.0,414.4 221.6,413.3 C222.3,412.1 223.0,411.0 223.6,409.8 C224.3,408.7 224.9,406.4 225.7,406.4 C226.5,406.4 227.6,408.7 228.1,409.8 C228.7,411.0 228.9,412.1 229.2,413.3 C229.6,414.4 229.8,415.6 230.1,416.7 C230.4,417.9 230.6,419.0 230.8,420.2 C231.1,421.3 231.3,422.5 231.5,423.6 C231.7,424.8 231.9,425.9 232.1,427.1 C232.3,428.2 232.7,429.2 232.6,430.5 C232.6,431.8 232.4,433.6 231.9,435.0 C231.5,436.5 230.8,437.8 230.0,438.9 C229.2,440.0 228.1,440.9 227.1,441.5 C226.0,442.1 224.9,442.4 223.6,442.4 C222.3,442.4 220.5,442.1 219.2,441.5 C217.8,440.9 216.5,440.0 215.4,438.9 C214.4,437.8 213.5,436.5 212.9,435.0 C212.4,433.6 211.9,431.8 212.1,430.5Z" fill="#000" fill-opacity="0.07" stroke="#000" stroke-width="0.9"/>
<path d="M210.9,430.5 C211.1,429.1 212.2,428.1 212.9,426.8 C213.6,425.6 214.3,424.4 215.0,423.2 C215.7,422.0 216.3,420.8 217.0,419.5 C217.7,418.3 218.4,417.1 219.1,415.9 C219.8,414.7 220.5,413.5 221.3,412.2 C222.0,411.0 222.7,409.8 223.5,408.6 C224.2,407.4 224.9,404.9 225.7,404.9 C226.5,404.9 227.7,407.4 228.4,408.6 C229.0,409.8 229.2,411.0 229.6,412.2 C229.9,413.5 230.2,414.7 230.5,415.9 C230.8,417.1 231.1,418.3 231.3,419.5 C231.6,420.8 231.8,422.0 232.1,423.2 C232.3,424.4 232.5,425.6 232.7,426.8 C232.9,428.1 233.4,429.1 233.3,430.5 C233.3,431.9 233.1,433.9 232.6,435.4 C232.1,436.9 231.4,438.4 230.5,439.5 C229.6,440.7 228.5,441.7 227.3,442.3 C226.2,442.9 225.0,443.2 223.6,443.2 C222.2,443.2 220.2,442.9 218.7,442.3 C217.2,441.7 215.8,440.7 214.6,439.5 C213.5,438.4 212.5,436.9 211.9,435.4 C211.2,433.9 210.7,431.9 210.9,430.5Z" fill="#000" fill-opacity="0.07" stroke="#000" stroke-width="0.9"/>
<path d="M209.7,430.5 C209.9,429.0 211.1,427.9 211.9,426.6 C212.6,425.4 213.3,424.1 214.1,422.8 C214.8,421.5 215.6,420.2 216.3,418.9 C217.1,417.7 217.8,416.4 218.6,415.1 C219.4,413.8 220.1,412.5 220.9,411.2 C221.7,410.0 222.5,408.7 223.3,407.4 C224.1,406.1 224.8,403.5 225.7,403.5 C226.6,403.5 227.9,406.1 228.6,407.4 C229.3,408.7 229.6,410.0 229.9,411.2 C230.3,412.5 230.7,413.8 231.0,415.1 C231.3,416.4 231.6,417.7 231.9,418.9 C232.2,420.2 232.4,421.5 232.7,422.8 C232.9,424.1 233.2,425.4 233.4,426.6 C233.6,427.9 234.1,429.0 234.1,430.5 C234.0,432.0 233.8,434.1 233.3,435.7 C232.8,437.3 231.9,438.9 231.0,440.1 C230.1,441.4 228.8,442.4 227.6,443.1 C226.4,443.7 225.2,444.1 223.6,444.1 C222.0,444.1 219.9,443.7 218.3,443.1 C216.6,442.4 215.0,441.4 213.8,440.1 C212.5,438.9 211.4,437.3 210.7,435.7 C210.1,434.1 209.5,432.0 209.7,430.5Z" fill="#000" fill-opacity="0.07" stroke="#000" stroke-width="0.9"/>
<path d="M208.4,430.5 C208.6,428.9 210.0,427.8 210.8,426.5 C211.6,425.1 212.4,423.8 213.2,422.4 C214.0,421.1 214.8,419.7 215.6,418.4 C216.4,417.0 217.2,415.7 218.0,414.3 C218.9,413.0 219.7,411.6 220.5,410.3 C221.4,408.9 222.2,407.6 223.1,406.2 C223.9,404.9 224.7,402.2 225.7,402.2 C226.7,402.2 228.1,404.9 228.9,406.2 C229.6,407.6 229.9,408.9 230.3,410.3 C230.7,411.6 231.1,413.0 231.4,414.3 C231.8,415.7 232.1,417.0 232.4,418.4 C232.7,419.7 233.0,421.1 233.3,422.4 C233.5,423.8 233.8,425.1 234.0,426.5 C234.3,427.8 234.8,428.9 234.8,430.5 C234.8,432.1 234.5,434.3 233.9,436.0 C233.4,437.7 232.5,439.4 231.5,440.7 C230.5,442.0 229.2,443.2 227.9,443.9 C226.6,444.6 225.3,445.0 223.6,445.0 C221.9,445.0 219.6,444.6 217.8,443.9 C216.0,443.2 214.2,442.0 212.9,440.7 C211.5,439.4 210.3,437.7 209.6,436.0 C208.9,434.3 208.2,432.1 208.4,430.5Z" fill="#000" fill-opacity="0.07" stroke="#000" stroke-width="0.9"/>
<path d="M207.2,430.5 C207.4,428.8 208.9,427.7 209.7,426.3 C210.6,424.8 211.4,423.4 212.3,422.0 C213.1,420.6 214.0,419.2 214.9,417.8 C215.7,416.4 216.6,415.0 217.5,413.5 C218.4,412.1 219.2,410.7 220.1,409.3 C221.0,407.9 221.9,406.5 222.9,405.1 C223.8,403.6 224.7,400.8 225.7,400.8 C226.7,400.8 228.3,403.6 229.1,405.1 C229.9,406.5 230.2,407.9 230.7,409.3 C231.1,410.7 231.5,412.1 231.9,413.5 C232.3,415.0 232.6,416.4 232.9,417.8 C233.2,419.2 233.6,420.6 233.9,422.0 C234.1,423.4 234.4,424.8 234.7,426.3 C235.0,427.7 235.5,428.8 235.5,430.5 C235.5,432.2 235.2,434.6 234.6,436.4 C234.0,438.2 233.1,440.0 232.0,441.3 C230.9,442.7 229.6,443.9 228.1,444.7 C226.7,445.4 225.4,445.8 223.6,445.8 C221.8,445.8 219.3,445.4 217.3,444.7 C215.4,443.9 213.5,442.7 212.0,441.3 C210.5,440.0 209.2,438.2 208.4,436.4 C207.6,434.6 207.0,432.2 207.2,430.5Z" fill="#000" fill-opacity="0.07" stroke="#000" stroke-width="0.9"/>
<path d="M205.9,430.5 C206.1,428.7 207.7,427.5 208.6,426.1 C209.5,424.6 210.4,423.1 211.3,421.6 C212.3,420.2 213.2,418.7 214.1,417.2 C215.0,415.7 216.0,414.3 216.9,412.8 C217.8,411.3 218.8,409.8 219.7,408.4 C220.7,406.9 221.7,405.4 222.7,403.9 C223.7,402.5 224.6,399.5 225.7,399.5 C226.8,399.5 228.5,402.5 229.4,403.9 C230.3,405.4 230.5,406.9 231.0,408.4 C231.5,409.8 231.9,411.3 232.3,412.8 C232.7,414.3 233.1,415.7 233.4,417.2 C233.8,418.7 234.1,420.2 234.4,421.6 C234.8,423.1 235.1,424.6 235.4,426.1 C235.6,427.5 236.2,428.7 236.2,430.5 C236.2,432.3 235.9,434.8 235.2,436.7 C234.6,438.6 233.6,440.5 232.5,442.0 C231.4,443.4 229.9,444.7 228.4,445.5 C226.9,446.3 225.5,446.7 223.6,446.7 C221.7,446.7 218.9,446.3 216.8,445.5 C214.7,444.7 212.7,443.4 211.1,442.0 C209.5,440.5 208.1,438.6 207.2,436.7 C206.4,434.8 205.7,432.3 205.9,430.5Z" fill="#000" fill-opacity="0.07" stroke="#000" stroke-width="0.9"/>
<ellipse cx="223.7" cy="430.6" rx="1.0" ry="2.2" fill="#fff" stroke="#000" stroke-width="0.45" transform="rotate(12 223.7 430.6)"/>
<path d="M180.0,437.3 C180.1,437.5 180.0,437.9 179.8,438.1 C179.5,438.3 179.0,438.5 178.6,438.6 C178.2,438.7 177.7,438.8 177.3,438.8 C176.9,438.8 176.3,438.7 176.0,438.6 C175.8,438.5 175.6,438.2 175.6,437.9 C175.6,437.7 175.8,437.4 176.0,437.2 C176.2,436.9 176.6,436.7 177.0,436.6 C177.3,436.4 177.9,436.3 178.3,436.4 C178.7,436.4 179.1,436.5 179.4,436.7 C179.7,436.8 180.0,437.1 180.0,437.3Z" fill="none" stroke="#000" stroke-width="0.7"/>
<path d="M185.8,433.8 C185.8,434.2 185.4,434.8 184.9,435.4 C184.3,436.0 183.3,436.9 182.5,437.6 C181.6,438.2 180.6,439.0 179.8,439.4 C178.9,439.7 178.2,439.8 177.6,439.7 C176.9,439.7 176.3,439.5 175.7,439.2 C175.2,439.0 174.7,438.7 174.5,438.3 C174.2,438.0 174.0,437.6 174.0,437.2 C174.0,436.8 174.2,436.4 174.5,436.1 C174.7,435.7 175.2,435.4 175.7,435.2 C176.3,434.9 176.9,434.8 177.6,434.7 C178.2,434.5 178.9,434.5 179.8,434.3 C180.6,434.1 181.6,433.7 182.5,433.5 C183.3,433.3 184.3,433.1 184.9,433.2 C185.4,433.2 185.8,433.4 185.8,433.8Z" fill="none" stroke="#000" stroke-width="0.72"/>
<path d="M189.2,433.0 C189.2,433.6 188.6,434.5 187.8,435.3 C187.0,436.2 185.6,437.4 184.4,438.3 C183.1,439.1 181.6,440.2 180.3,440.7 C179.1,441.1 178.1,441.2 177.0,441.1 C176.0,441.0 175.0,440.7 174.2,440.3 C173.4,440.0 172.7,439.5 172.3,438.9 C171.9,438.4 171.6,437.8 171.6,437.2 C171.6,436.6 171.9,436.0 172.3,435.5 C172.7,434.9 173.4,434.4 174.2,434.1 C175.0,433.7 176.0,433.5 177.0,433.3 C178.1,433.1 179.1,433.1 180.3,432.9 C181.6,432.6 183.1,432.2 184.4,432.0 C185.6,431.8 187.0,431.7 187.8,431.9 C188.6,432.0 189.2,432.4 189.2,433.0Z" fill="none" stroke="#000" stroke-width="0.72"/>
<path d="M192.4,432.2 C192.4,433.0 191.7,434.1 190.6,435.3 C189.6,436.4 187.7,437.8 186.1,439.0 C184.5,440.1 182.5,441.4 180.9,441.9 C179.3,442.5 177.9,442.6 176.6,442.5 C175.2,442.4 173.9,441.9 172.9,441.4 C171.8,440.9 170.9,440.2 170.3,439.5 C169.7,438.8 169.4,438.0 169.4,437.2 C169.4,436.4 169.7,435.6 170.3,434.9 C170.9,434.2 171.8,433.5 172.9,433.0 C173.9,432.5 175.2,432.2 176.6,431.9 C177.9,431.7 179.3,431.6 180.9,431.4 C182.5,431.2 184.5,430.7 186.1,430.5 C187.7,430.4 189.6,430.3 190.6,430.6 C191.7,430.9 192.4,431.4 192.4,432.2Z" fill="none" stroke="#000" stroke-width="0.72"/>
<ellipse cx="194.0" cy="423.8" rx="1.0" ry="0.8" fill="#111"/>
<ellipse cx="198.8" cy="430.2" rx="0.9" ry="0.8" fill="#111"/>
<path d="M166.6,440.6 C167.2,439.4 168.4,435.1 170.0,433.4 C171.6,431.7 173.8,431.2 176.0,430.6 C178.2,430.0 180.9,430.3 183.0,429.6 C185.1,428.9 187.0,427.8 188.6,426.4 C190.2,425.0 191.2,422.6 192.6,421.4 C194.0,420.2 195.6,419.4 197.0,419.4 C198.4,419.4 199.7,420.4 201.0,421.6 C202.3,422.8 203.5,424.9 204.6,426.6 C205.7,428.3 206.5,430.2 207.4,432.0 C208.3,433.8 209.1,435.9 210.0,437.4 C210.9,438.9 212.2,440.4 212.6,441.0" fill="none" stroke="#000" stroke-width="0.7"/>
<path d="M188.6,443.6 C189.1,442.4 190.4,438.3 191.4,436.4 C192.4,434.5 193.5,432.5 194.4,432.4 C195.3,432.3 195.9,434.6 196.6,436.0 C197.3,437.4 197.9,441.2 198.6,441.0 C199.3,440.8 200.0,436.7 200.6,435.0 C201.2,433.3 201.7,430.8 202.4,430.6 C203.1,430.4 203.9,432.3 204.6,433.6 C205.3,434.9 206.0,437.0 206.6,438.6 C207.2,440.2 208.1,442.3 208.4,443.0" fill="none" stroke="#000" stroke-width="0.65"/>
<path d="M168.0,442.4 C168.4,441.3 169.3,437.6 170.6,436.0 C171.9,434.4 173.8,433.6 176.0,433.0 C178.2,432.4 181.7,433.1 184.0,432.4 C186.3,431.7 188.0,430.3 189.6,429.0 C191.2,427.7 192.4,425.5 193.6,424.4 C194.8,423.3 195.9,422.6 197.0,422.6 C198.1,422.6 199.4,423.5 200.4,424.6 C201.4,425.7 202.6,428.3 203.0,429.0" fill="none" stroke="#000" stroke-width="0.6"/>
<path d="M160.0,373.0 C160.3,373.7 161.2,375.4 161.6,377.0 C162.0,378.6 162.3,381.0 162.2,382.8 C162.1,384.6 161.9,386.6 161.2,388.0 C160.5,389.4 158.5,390.7 158.0,391.2" fill="none" stroke="#000" stroke-width="0.6"/>
<path d="M207.8,373.6 C208.3,374.0 209.8,375.5 211.0,376.0 C212.2,376.5 213.7,376.8 215.0,376.4 C216.3,376.0 218.2,374.2 218.8,373.8" fill="none" stroke="#000" stroke-width="0.6"/>
<path d="M157,419.8 L160.4,420.2 C162.8,421 164,423 164.2,426.4 C164.3,432 164.4,438 164.8,441 C165.2,443.0 166.6,443.8 169,443.9 L200,444.2 L230,443.8 L237.6,443.9 C238.6,445.6 239,448 239,451 L157,451 Z" fill="#000"/>
<path d="M165,441 C170,443.4 180,443.6 190,443.8 M212,443.6 C220,443.4 230,442.6 237.6,440.6 M214,441.6 C222,441.6 230,440.6 237.2,438" fill="none" stroke="#000" stroke-width="0.7"/>
</g>
<rect x="213.8" y="383.3" width="25.4" height="27.0" fill="none" stroke="#000" stroke-width="1.0"/>
<rect x="157.6" y="373.4" width="85.4" height="77.0" fill="none" stroke="#000" stroke-width="1.25"/>
<text x="197.4" y="396.0" font-size="8.3" fill="#222" stroke="#222" stroke-width="0.15" textLength="13.6" lengthAdjust="spacingAndGlyphs">4.8</text>
</g>
</svg>
</body>
</html>
